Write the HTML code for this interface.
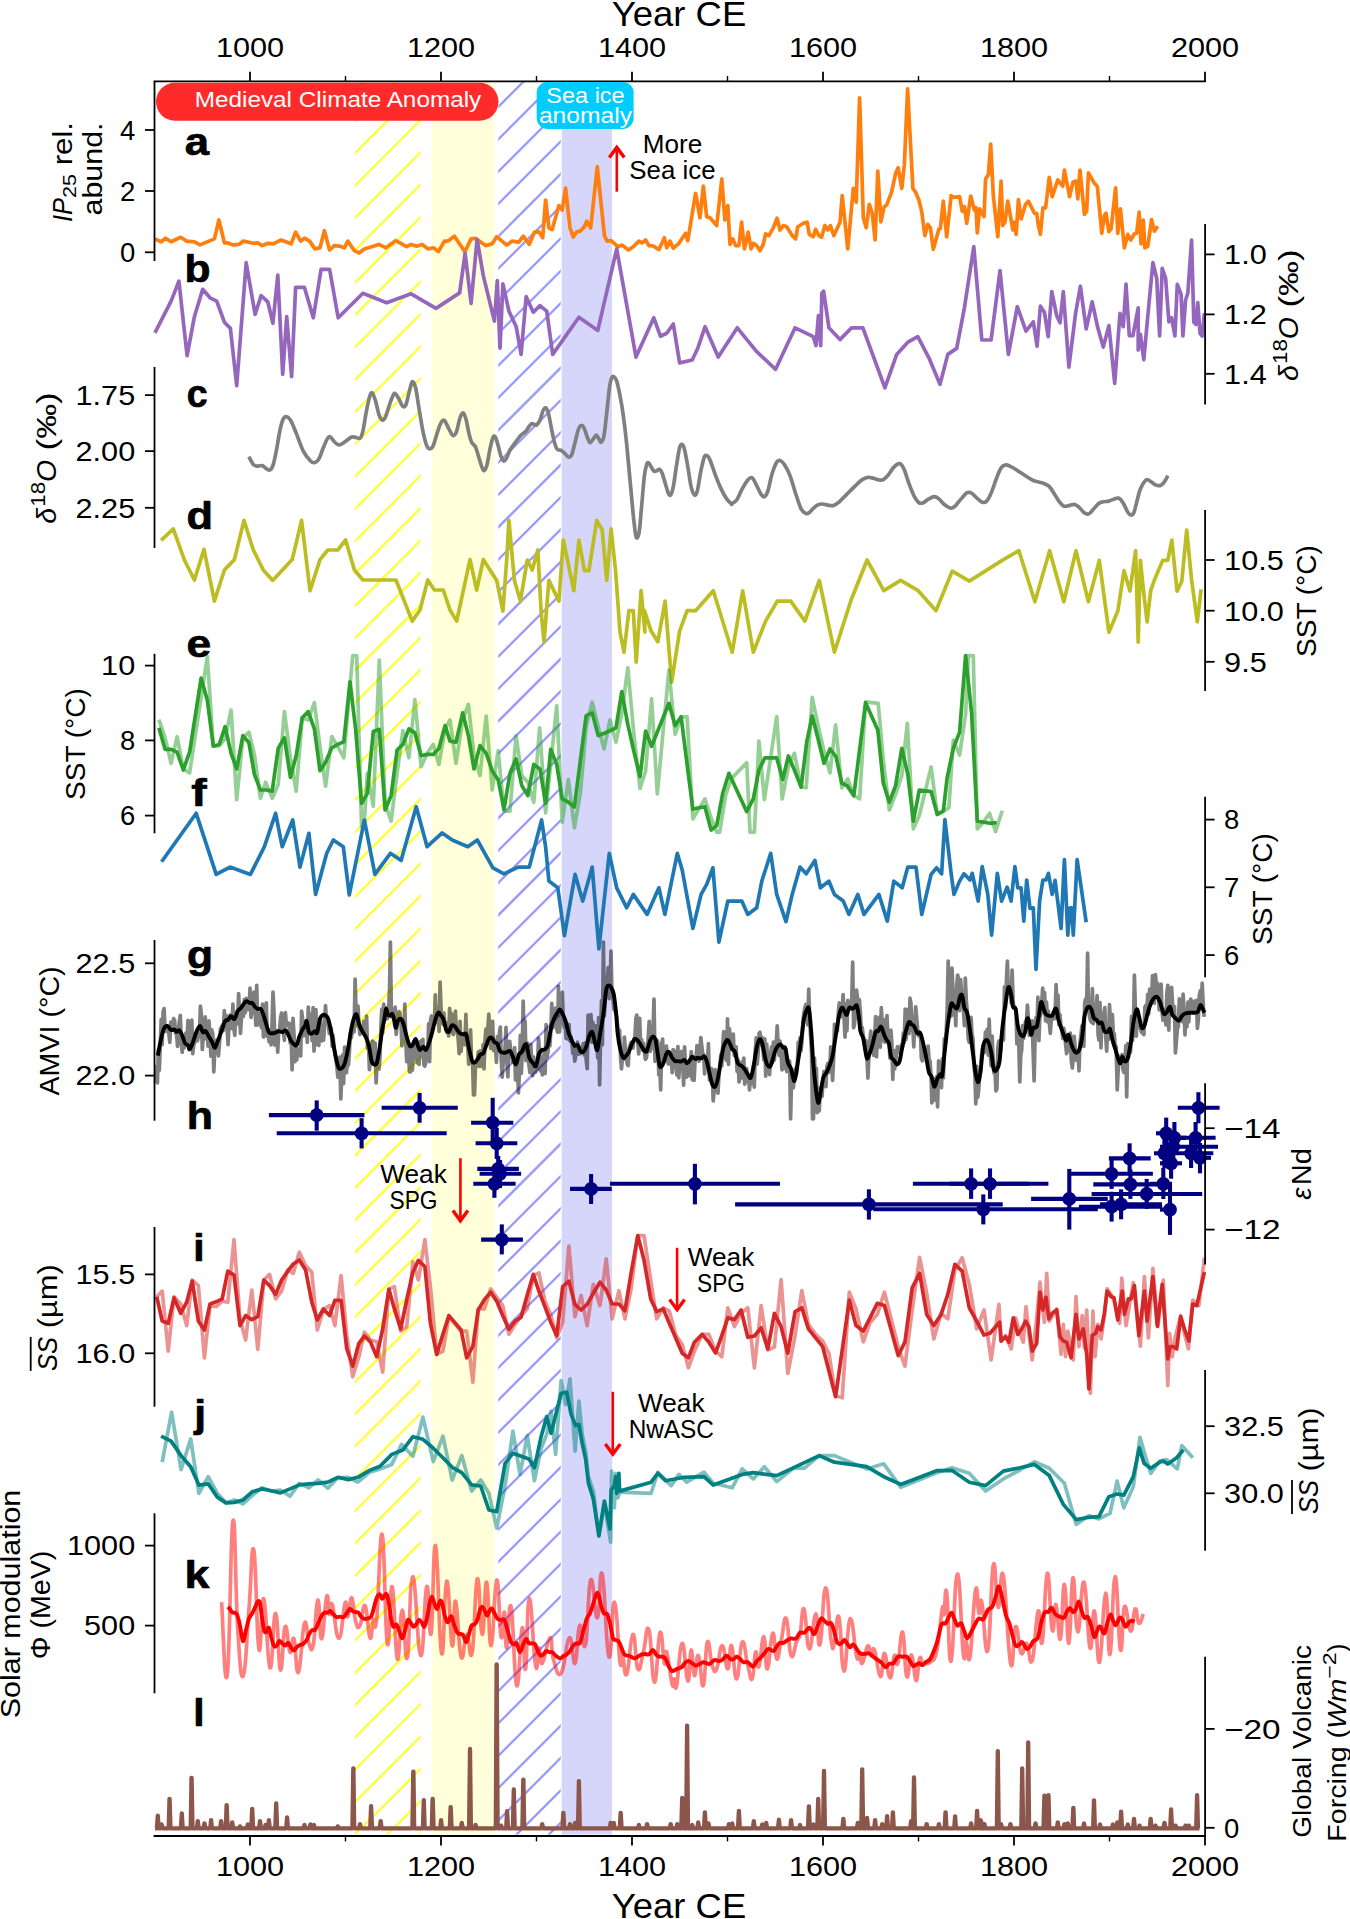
<!DOCTYPE html>
<html><head><meta charset="utf-8"><title>Figure</title>
<style>html,body{margin:0;padding:0;background:#fff}svg{display:block}</style></head>
<body>
<svg width="1350" height="1919" viewBox="0 0 1350 1919" font-family="Liberation Sans, sans-serif">
<rect width="1350" height="1919" fill="#fff"/>
<rect x="431.7" y="82.0" width="62.3" height="1752.5" fill="#ffffd9"/>
<rect x="561.7" y="82.0" width="50.3" height="1752.5" fill="#d6d6fb"/>
<clipPath id="hy"><rect x="355.0" y="82.0" width="65.69999999999999" height="1752.5"/></clipPath>
<path d="M352.0,91.6L423.7,19.9M352.0,123.9L423.7,52.2M352.0,156.2L423.7,84.5M352.0,188.6L423.7,116.9M352.0,220.9L423.7,149.2M352.0,253.2L423.7,181.5M352.0,285.6L423.7,213.9M352.0,317.9L423.7,246.2M352.0,350.2L423.7,278.5M352.0,382.6L423.7,310.9M352.0,414.9L423.7,343.2M352.0,447.2L423.7,375.5M352.0,479.6L423.7,407.9M352.0,511.9L423.7,440.2M352.0,544.2L423.7,472.5M352.0,576.5L423.7,504.8M352.0,608.9L423.7,537.2M352.0,641.2L423.7,569.5M352.0,673.5L423.7,601.8M352.0,705.9L423.7,634.2M352.0,738.2L423.7,666.5M352.0,770.5L423.7,698.8M352.0,802.9L423.7,731.2M352.0,835.2L423.7,763.5M352.0,867.5L423.7,795.8M352.0,899.8L423.7,828.1M352.0,932.2L423.7,860.5M352.0,964.5L423.7,892.8M352.0,996.8L423.7,925.1M352.0,1029.2L423.7,957.5M352.0,1061.5L423.7,989.8M352.0,1093.8L423.7,1022.1M352.0,1126.1L423.7,1054.4M352.0,1158.5L423.7,1086.8M352.0,1190.8L423.7,1119.1M352.0,1223.1L423.7,1151.4M352.0,1255.5L423.7,1183.8M352.0,1287.8L423.7,1216.1M352.0,1320.1L423.7,1248.4M352.0,1352.5L423.7,1280.8M352.0,1384.8L423.7,1313.1M352.0,1417.1L423.7,1345.4M352.0,1449.4L423.7,1377.7M352.0,1481.8L423.7,1410.1M352.0,1514.1L423.7,1442.4M352.0,1546.4L423.7,1474.7M352.0,1578.8L423.7,1507.1M352.0,1611.1L423.7,1539.4M352.0,1643.4L423.7,1571.7M352.0,1675.8L423.7,1604.1M352.0,1708.1L423.7,1636.4M352.0,1740.4L423.7,1668.7M352.0,1772.7L423.7,1701.0M352.0,1805.1L423.7,1733.4M352.0,1837.4L423.7,1765.7M352.0,1869.7L423.7,1798.0M352.0,1902.1L423.7,1830.4" stroke="#ffff38" stroke-width="2.3" stroke-opacity="1" fill="none" clip-path="url(#hy)"/>
<clipPath id="hb"><rect x="498.3" y="82.0" width="62.400000000000034" height="1752.5"/></clipPath>
<path d="M495.3,77.6L563.7,9.2M495.3,109.9L563.7,41.5M495.3,142.3L563.7,73.9M495.3,174.6L563.7,106.2M495.3,206.9L563.7,138.5M495.3,239.3L563.7,170.9M495.3,271.6L563.7,203.2M495.3,303.9L563.7,235.5M495.3,336.3L563.7,267.9M495.3,368.6L563.7,300.2M495.3,400.9L563.7,332.5M495.3,433.2L563.7,364.8M495.3,465.6L563.7,397.2M495.3,497.9L563.7,429.5M495.3,530.2L563.7,461.8M495.3,562.6L563.7,494.2M495.3,594.9L563.7,526.5M495.3,627.2L563.7,558.8M495.3,659.6L563.7,591.2M495.3,691.9L563.7,623.5M495.3,724.2L563.7,655.8M495.3,756.5L563.7,688.1M495.3,788.9L563.7,720.5M495.3,821.2L563.7,752.8M495.3,853.5L563.7,785.1M495.3,885.9L563.7,817.5M495.3,918.2L563.7,849.8M495.3,950.5L563.7,882.1M495.3,982.8L563.7,914.4M495.3,1015.2L563.7,946.8M495.3,1047.5L563.7,979.1M495.3,1079.8L563.7,1011.4M495.3,1112.2L563.7,1043.8M495.3,1144.5L563.7,1076.1M495.3,1176.8L563.7,1108.4M495.3,1209.2L563.7,1140.8M495.3,1241.5L563.7,1173.1M495.3,1273.8L563.7,1205.4M495.3,1306.1L563.7,1237.7M495.3,1338.5L563.7,1270.1M495.3,1370.8L563.7,1302.4M495.3,1403.1L563.7,1334.7M495.3,1435.5L563.7,1367.1M495.3,1467.8L563.7,1399.4M495.3,1500.1L563.7,1431.7M495.3,1532.5L563.7,1464.1M495.3,1564.8L563.7,1496.4M495.3,1597.1L563.7,1528.7M495.3,1629.4L563.7,1561.0M495.3,1661.8L563.7,1593.4M495.3,1694.1L563.7,1625.7M495.3,1726.4L563.7,1658.0M495.3,1758.8L563.7,1690.4M495.3,1791.1L563.7,1722.7M495.3,1823.4L563.7,1755.0M495.3,1855.8L563.7,1787.4M495.3,1888.1L563.7,1819.7" stroke="#0000ff" stroke-width="2.3" stroke-opacity="0.4" fill="none" clip-path="url(#hb)"/>
<polyline points="154.9,238.9 161.1,241.8 165.6,238.2 171.1,241.8 180.7,237.3 186.7,241.1 194.4,241.8 200.0,244.9 214.4,238.9 218.9,220.0 224.4,242.9 227.8,242.9 233.3,244.9 238.9,244.4 243.3,241.1 253.3,243.3 257.8,242.9 262.2,245.6 267.8,243.3 273.3,243.8 281.1,240.0 291.1,243.8 295.6,232.2 300.7,241.1 304.4,238.2 309.6,241.1 314.9,248.9 320.0,247.8 324.4,230.7 329.6,250.0 334.4,245.6 340.0,246.2 344.4,247.8 347.8,241.1 354.4,250.7 358.9,252.9 364.4,248.9 378.9,244.4 386.0,247.8 395.6,240.7 406.7,246.7 411.1,244.4 416.7,246.2 422.2,244.4 428.2,248.9 433.3,247.8 438.4,251.6 444.4,241.1 444.4,241.6 448.4,240.7 454.4,236.2 464.9,251.8 471.1,238.9 475.6,238.4 485.6,245.6 492.2,243.8 496.7,236.7 506.7,245.1 512.2,241.1 518.9,242.2 523.3,236.2 529.3,244.4 534.4,232.2 538.9,231.8 542.7,237.8 545.6,200.0 548.9,227.8 552.2,229.6 558.9,205.6 562.2,210.0 565.6,188.2 570.0,227.8 573.3,237.1 576.7,231.8 580.4,231.1 584.4,226.7 586.7,221.1 590.7,227.8 597.3,166.7 604.4,235.6 607.1,241.1 611.1,240.7 617.8,246.7 622.2,245.1 628.4,250.0 633.3,246.7 638.9,241.1 642.2,242.9 645.6,240.0 648.9,245.6 653.3,246.0 658.9,249.6 664.4,237.8 666.7,247.8 670.0,241.1 673.3,248.2 678.9,243.3 685.6,233.3 687.8,240.7 695.6,193.3 700.0,217.8 703.3,186.0 706.7,216.7 710.0,217.8 716.7,225.6 721.8,178.9 724.9,220.0 727.8,205.6 730.0,244.4 732.9,238.9 735.6,245.6 738.9,245.6 741.6,222.2 744.4,248.9 748.2,232.2 751.1,248.9 753.3,243.3 756.7,245.6 760.0,250.7 763.3,244.4 765.6,233.8 768.9,235.6 773.3,227.8 777.1,218.2 780.0,230.0 783.3,225.6 786.7,226.7 792.2,235.6 795.6,238.9 797.8,226.7 803.3,223.3 807.1,222.2 809.3,234.4 813.3,236.7 815.6,229.3 818.9,235.6 821.6,237.3 824.9,225.6 827.8,230.0 830.4,225.6 833.8,235.6 840.0,222.2 842.2,195.6 847.8,248.9 853.3,188.4 856.2,202.2 859.6,97.8 863.3,217.8 866.2,227.8 869.3,204.4 872.2,213.3 875.1,240.0 877.8,171.1 880.9,221.8 884.0,207.1 886.7,204.9 891.6,192.2 895.6,173.3 898.2,167.8 901.8,188.4 904.4,164.4 907.6,88.9 912.9,188.4 915.6,192.2 918.9,200.0 921.6,211.1 924.9,235.6 927.8,224.4 930.4,227.8 933.3,249.3 938.9,228.9 940.4,228.4 943.3,201.1 946.7,236.7 951.1,195.6 953.3,197.3 959.6,196.7 962.2,211.1 964.4,206.7 966.7,223.3 970.7,196.0 974.4,210.0 976.0,207.8 977.3,232.9 979.6,208.9 984.0,216.7 985.6,178.9 988.4,174.4 990.7,144.0 993.3,195.6 997.8,236.7 1001.1,181.1 1002.7,225.6 1004.9,222.2 1007.8,201.1 1012.9,230.0 1014.4,222.2 1016.2,234.4 1018.4,199.6 1021.1,218.9 1025.6,204.4 1028.4,201.1 1034.4,213.3 1036.7,213.3 1038.2,224.4 1040.4,234.4 1042.9,207.8 1045.6,207.8 1049.3,177.3 1052.2,196.7 1057.8,180.0 1062.7,186.2 1064.4,170.0 1069.6,196.7 1072.9,182.2 1076.0,181.1 1077.8,198.9 1080.0,170.0 1084.4,214.4 1086.7,211.1 1088.4,172.9 1094.4,183.3 1097.3,186.2 1101.8,233.3 1104.4,215.6 1106.0,213.3 1108.9,231.6 1111.1,228.9 1115.6,187.8 1117.8,233.3 1120.4,208.9 1124.4,247.8 1127.8,234.4 1130.7,240.0 1134.4,233.8 1136.7,233.3 1139.1,212.2 1141.1,244.0 1143.3,220.0 1144.9,247.8 1147.8,246.2 1151.6,219.6 1154.4,231.1 1157.8,226.2" fill="none" stroke="#ff7f0e" stroke-width="3.7" stroke-linejoin="round" stroke-linecap="butt" />
<polyline points="154.9,332.9 171.1,301.1 178.9,281.1 187.1,355.6 194.4,316.7 202.7,289.3 210.0,297.8 216.7,301.1 224.4,322.2 230.4,328.4 236.7,385.6 246.2,262.7 255.1,314.4 261.1,295.6 267.8,301.8 272.9,323.3 277.8,275.1 282.7,374.4 286.7,316.7 291.6,376.7 295.6,287.3 304.4,287.3 313.3,317.8 321.1,269.3 329.6,269.3 338.2,317.8 362.9,293.3 386.7,302.7 411.1,293.8 436.0,308.4 459.6,292.9 465.1,253.3 471.1,303.3 477.1,239.3 483.3,275.6 494.4,321.1 497.3,280.7 500.0,348.2 502.9,283.8 508.9,311.1 516.2,326.7 521.1,354.4 526.2,296.7 533.3,312.2 540.0,305.6 546.7,311.1 552.7,354.4 578.9,317.3 597.8,330.4 616.7,248.9 636.0,357.1 653.8,317.8 660.4,336.2 666.7,333.3 673.3,324.0 679.6,362.9 692.2,360.0 697.8,348.2 705.1,326.7 718.2,357.1 737.3,327.8 756.7,351.6 775.6,369.3 795.1,327.8 813.3,336.7 816.0,345.6 818.4,315.6 820.7,345.6 821.8,293.3 823.6,291.1 828.9,327.8 840.0,339.6 851.6,327.8 862.9,327.8 884.9,387.8 896.7,354.4 907.8,342.2 917.8,336.7 928.9,357.8 940.0,384.4 947.8,354.4 956.7,348.4 964.4,307.8 973.8,246.7 981.8,340.0 991.1,340.0 1000.0,270.7 1008.4,354.4 1017.3,306.7 1026.0,331.1 1033.3,321.8 1037.1,346.2 1040.4,306.2 1044.4,312.2 1048.2,336.7 1051.8,291.6 1056.7,315.6 1060.0,322.7 1063.3,291.6 1068.9,367.1 1075.6,313.3 1080.4,286.2 1086.2,328.9 1092.2,301.8 1097.8,327.8 1103.3,347.1 1108.9,325.6 1114.7,383.3 1120.0,313.3 1123.3,326.7 1126.0,284.0 1129.3,335.6 1132.9,335.6 1138.2,307.8 1138.2,350.0 1140.4,334.4 1143.8,359.6 1148.9,304.4 1152.9,262.7 1156.7,278.2 1159.6,336.0 1162.2,268.4 1165.6,278.2 1168.9,321.8 1171.6,317.8 1174.9,336.0 1177.3,284.4 1181.1,294.4 1182.9,336.0 1185.6,300.0 1187.8,293.3 1191.6,240.0 1193.8,322.2 1196.0,324.4 1197.8,302.7 1200.0,333.3 1202.2,336.0 1204.4,313.3" fill="none" stroke="#9467bd" stroke-width="3.7" stroke-linejoin="round" stroke-linecap="butt" />
<path d="M248.9,456.7C249.6,458.0 251.9,462.9 253.3,464.4C254.8,466.0 256.3,466.0 257.8,466.2C259.3,466.4 260.7,465.1 262.2,465.6C263.7,466.0 265.4,468.1 266.7,468.9C268.0,469.6 268.9,470.7 270.0,470.0C271.1,469.3 272.2,468.0 273.3,464.4C274.4,460.9 275.6,454.6 276.7,448.9C277.8,443.1 278.9,435.0 280.0,430.0C281.1,425.0 282.2,421.1 283.3,418.9C284.4,416.7 285.4,416.3 286.7,416.7C288.0,417.0 289.4,418.1 291.1,421.1C292.8,424.1 294.6,429.4 296.7,434.4C298.7,439.4 301.1,446.8 303.3,451.1C305.6,455.4 308.1,458.5 310.0,460.4C311.9,462.4 313.0,462.9 314.4,462.7C315.9,462.4 317.4,461.4 318.9,458.9C320.4,456.4 321.9,451.1 323.3,447.8C324.7,444.4 326.2,440.7 327.3,438.9C328.4,437.0 328.8,436.2 330.0,436.7C331.2,437.1 333.0,440.4 334.4,441.8C335.9,443.1 337.2,444.8 338.9,444.9C340.6,445.0 342.4,443.5 344.4,442.2C346.5,441.0 349.3,438.1 351.1,437.3C353.0,436.5 354.1,437.2 355.6,437.3C357.0,437.5 358.8,439.3 360.0,438.2C361.2,437.2 361.9,435.3 362.9,431.1C363.9,427.0 364.9,419.1 366.0,413.3C367.1,407.6 368.5,400.1 369.6,396.7C370.6,393.3 371.2,392.1 372.2,392.9C373.2,393.6 374.4,397.5 375.6,401.1C376.7,404.7 377.8,411.3 378.9,414.4C380.0,417.6 381.1,419.6 382.2,420.0C383.3,420.4 384.3,419.4 385.6,416.7C386.9,413.9 388.5,407.2 390.0,403.3C391.5,399.4 393.0,394.1 394.4,393.3C395.9,392.6 397.6,396.9 398.9,398.9C400.2,400.9 401.1,404.4 402.2,405.6C403.3,406.7 404.4,407.6 405.6,405.6C406.7,403.5 407.8,397.3 408.9,393.3C410.0,389.4 411.1,382.7 412.2,381.8C413.3,380.9 414.4,383.4 415.6,387.8C416.7,392.1 417.7,400.6 418.9,407.8C420.1,415.0 421.6,424.8 422.9,431.1C424.2,437.4 425.5,442.6 426.7,445.6C427.9,448.5 428.9,448.9 430.0,448.9C431.1,448.9 432.0,448.5 433.3,445.6C434.6,442.6 436.4,435.1 437.8,431.1C439.1,427.1 440.4,423.6 441.6,421.8C442.7,420.0 443.6,420.0 444.4,420.4C445.3,420.9 445.7,422.7 446.7,424.4C447.6,426.2 448.9,429.3 450.0,431.1C451.1,433.0 452.2,435.6 453.3,435.6C454.4,435.6 455.6,434.1 456.7,431.1C457.8,428.1 458.9,420.8 460.0,417.8C461.1,414.7 462.3,412.5 463.3,412.9C464.4,413.3 465.3,416.6 466.2,420.0C467.1,423.4 468.0,429.6 468.9,433.3C469.8,437.0 470.4,439.9 471.6,442.2C472.7,444.5 474.3,444.5 475.6,447.1C476.8,449.7 477.8,454.3 478.9,457.8C480.0,461.2 481.3,465.7 482.2,467.8C483.1,469.9 483.6,471.0 484.4,470.4C485.3,469.9 486.2,468.0 487.1,464.4C488.0,460.9 489.0,453.3 490.0,448.9C491.0,444.4 492.0,439.8 492.9,437.8C493.7,435.7 494.3,435.6 495.1,436.7C495.9,437.8 496.8,441.1 497.8,444.4C498.8,447.8 500.1,453.9 501.1,456.7C502.1,459.4 503.1,460.9 504.0,461.1C504.9,461.3 505.7,459.6 506.7,457.8C507.7,455.9 508.5,452.6 510.0,450.0C511.5,447.4 513.7,444.7 515.6,442.2C517.4,439.7 519.4,436.9 521.1,435.1C522.8,433.3 524.3,433.0 525.6,431.6C526.9,430.1 527.9,428.0 528.9,426.7C529.9,425.4 530.6,424.1 531.6,423.8C532.5,423.4 533.6,424.3 534.4,424.4C535.3,424.6 535.7,425.6 536.7,424.9C537.6,424.1 539.0,422.3 540.0,420.0C541.0,417.7 542.0,413.1 542.9,411.1C543.8,409.1 544.6,407.4 545.6,407.8C546.5,408.1 547.5,410.2 548.4,413.3C549.4,416.5 550.1,421.9 551.1,426.7C552.1,431.5 553.4,438.4 554.4,442.2C555.5,446.0 556.1,447.9 557.3,449.3C558.6,450.7 560.4,449.8 561.8,450.7C563.1,451.5 564.4,453.4 565.6,454.4C566.7,455.5 567.9,457.1 568.9,457.1C569.9,457.1 570.7,456.9 571.8,454.4C572.8,452.0 574.0,446.3 575.1,442.2C576.2,438.1 577.2,432.8 578.2,430.0C579.2,427.2 580.1,425.9 581.1,425.6C582.1,425.2 583.0,425.9 584.0,427.8C585.0,429.6 586.1,434.2 587.1,436.7C588.1,439.1 589.0,442.3 590.0,442.7C591.0,443.0 592.3,440.1 593.3,438.9C594.4,437.6 595.3,435.1 596.2,435.1C597.1,435.1 598.1,437.7 598.9,438.9C599.7,440.1 600.3,442.8 601.1,442.2C602.0,441.7 603.1,440.4 604.0,435.6C604.9,430.7 605.8,421.1 606.7,413.3C607.6,405.6 608.5,394.7 609.3,388.9C610.1,383.0 610.8,380.3 611.6,378.2C612.3,376.2 612.9,376.2 613.8,376.7C614.6,377.1 615.6,378.0 616.7,381.1C617.7,384.3 618.9,389.8 620.0,395.6C621.1,401.3 622.2,407.4 623.3,415.6C624.4,423.7 625.6,433.7 626.7,444.4C627.8,455.2 628.9,468.1 630.0,480.0C631.1,491.9 632.4,506.5 633.3,515.6C634.3,524.6 634.9,530.7 635.6,534.4C636.2,538.1 636.7,538.3 637.3,537.8C638.0,537.2 638.6,536.7 639.3,531.1C640.1,525.6 640.9,513.7 641.8,504.4C642.6,495.2 643.6,482.2 644.4,475.6C645.3,468.9 646.0,466.6 646.7,464.4C647.3,462.3 647.7,462.3 648.4,462.7C649.2,463.0 650.2,465.3 651.1,466.7C652.0,468.1 652.9,470.4 653.8,471.1C654.7,471.8 655.7,471.0 656.7,470.7C657.6,470.4 658.6,468.9 659.6,469.3C660.5,469.8 661.2,470.8 662.2,473.3C663.2,475.9 664.5,481.1 665.6,484.4C666.6,487.8 667.6,491.6 668.4,493.3C669.3,495.1 669.9,496.0 670.7,494.9C671.5,493.8 672.3,491.7 673.3,486.7C674.3,481.6 675.6,470.9 676.7,464.4C677.7,458.0 678.7,451.1 679.6,447.8C680.4,444.4 681.0,444.3 681.8,444.4C682.6,444.6 683.4,445.2 684.4,448.9C685.4,452.6 686.7,460.4 687.8,466.7C688.9,473.0 690.0,482.0 691.1,486.7C692.2,491.4 693.4,494.1 694.4,494.9C695.5,495.6 696.3,494.7 697.3,491.1C698.3,487.5 699.3,478.9 700.4,473.3C701.6,467.8 703.0,460.7 704.0,457.8C705.0,454.8 705.7,455.2 706.7,455.6C707.7,455.9 708.5,456.7 710.0,460.0C711.5,463.3 713.7,470.7 715.6,475.6C717.4,480.4 719.3,485.0 721.1,488.9C723.0,492.8 724.9,496.4 726.7,498.9C728.4,501.4 730.7,503.2 731.6,504.0C732.4,504.8 730.7,504.4 731.6,503.8C732.4,503.1 734.9,502.5 736.7,500.0C738.4,497.5 740.4,492.2 742.2,488.9C744.1,485.6 746.1,481.9 747.8,480.0C749.4,478.1 750.7,476.9 752.2,477.8C753.7,478.7 755.2,482.8 756.7,485.6C758.1,488.3 759.8,492.6 761.1,494.4C762.4,496.3 763.3,497.2 764.4,496.7C765.6,496.1 766.5,495.0 767.8,491.1C769.1,487.2 770.7,478.1 772.2,473.3C773.7,468.5 775.4,464.4 776.7,462.2C778.0,460.1 778.7,460.1 780.0,460.4C781.3,460.8 782.8,461.9 784.4,464.4C786.1,467.0 788.1,470.7 790.0,475.6C791.9,480.4 793.7,487.8 795.6,493.3C797.4,498.9 799.4,505.6 801.1,508.9C802.8,512.2 804.3,512.7 805.6,513.3C806.9,514.0 807.6,513.7 808.9,512.9C810.2,512.1 811.9,509.8 813.3,508.4C814.8,507.1 816.3,505.6 817.8,504.9C819.3,504.1 820.6,504.0 822.2,504.0C823.9,504.0 825.9,504.9 827.8,505.1C829.6,505.4 831.5,506.0 833.3,505.6C835.2,505.1 836.7,504.1 838.9,502.2C841.1,500.4 843.9,497.2 846.7,494.4C849.4,491.7 853.0,488.0 855.6,485.6C858.1,483.1 860.2,480.9 862.2,479.6C864.3,478.2 865.9,477.6 867.8,477.3C869.6,477.1 871.5,477.8 873.3,478.2C875.2,478.7 877.2,479.8 878.9,480.0C880.6,480.2 881.9,480.3 883.3,479.6C884.8,478.8 886.1,477.5 887.8,475.6C889.4,473.6 891.7,469.7 893.3,467.8C895.0,465.9 896.5,464.6 897.8,464.0C899.1,463.4 900.0,463.4 901.1,464.4C902.2,465.4 903.1,466.9 904.4,470.0C905.7,473.1 907.2,478.9 908.9,483.3C910.6,487.8 912.8,493.4 914.4,496.7C916.1,499.9 917.4,501.7 918.9,502.7C920.4,503.7 921.7,503.3 923.3,502.7C925.0,502.0 927.0,499.9 928.9,498.9C930.7,497.9 932.8,496.7 934.4,496.7C936.1,496.7 937.2,497.6 938.9,498.9C940.6,500.2 942.4,502.9 944.4,504.4C946.5,506.0 949.3,508.0 951.1,508.2C953.0,508.4 953.9,507.1 955.6,505.6C957.2,504.0 959.3,501.0 961.1,498.9C963.0,496.8 965.0,493.9 966.7,492.9C968.3,491.9 969.4,492.1 971.1,492.9C972.8,493.7 974.8,496.2 976.7,497.8C978.5,499.3 980.6,501.7 982.2,502.2C983.9,502.8 985.2,502.6 986.7,501.1C988.1,499.6 989.4,497.2 991.1,493.3C992.8,489.4 995.0,482.0 996.7,477.8C998.3,473.5 999.6,469.9 1001.1,467.8C1002.6,465.6 1004.1,465.1 1005.6,464.9C1007.0,464.6 1007.6,465.0 1010.0,466.2C1012.4,467.4 1016.5,470.0 1020.0,472.2C1023.5,474.4 1028.3,477.8 1031.1,479.3C1033.9,480.9 1034.6,480.9 1036.7,481.6C1038.7,482.2 1041.3,482.6 1043.3,483.3C1045.4,484.1 1047.2,484.7 1048.9,486.2C1050.6,487.7 1051.7,489.7 1053.3,492.2C1055.0,494.7 1057.1,498.8 1058.9,501.1C1060.7,503.4 1062.3,505.5 1064.0,506.2C1065.7,507.0 1067.1,505.9 1068.9,505.6C1070.6,505.3 1072.8,504.2 1074.4,504.4C1076.1,504.7 1077.2,505.7 1078.9,507.1C1080.6,508.5 1082.8,511.8 1084.4,512.9C1086.1,514.0 1087.4,514.4 1088.9,513.8C1090.4,513.2 1091.7,511.1 1093.3,509.3C1095.0,507.6 1097.2,504.6 1098.9,503.3C1100.6,502.1 1101.7,502.1 1103.3,501.8C1105.0,501.4 1107.0,501.6 1108.9,501.1C1110.7,500.6 1112.8,499.4 1114.4,498.9C1116.1,498.4 1117.4,497.5 1118.9,498.2C1120.4,499.0 1121.9,501.0 1123.3,503.3C1124.8,505.7 1126.5,510.3 1127.8,512.2C1129.1,514.2 1130.1,515.1 1131.1,515.1C1132.1,515.1 1133.1,514.4 1134.0,512.2C1134.9,510.1 1135.7,505.9 1136.7,502.2C1137.7,498.5 1138.8,493.3 1140.0,490.0C1141.2,486.7 1142.8,484.0 1144.0,482.2C1145.2,480.5 1145.9,479.6 1147.1,479.6C1148.3,479.5 1149.7,480.9 1151.1,481.8C1152.5,482.7 1154.1,484.3 1155.6,484.9C1157.0,485.5 1158.7,485.8 1160.0,485.6C1161.3,485.3 1162.3,484.4 1163.3,483.3C1164.4,482.2 1165.5,480.2 1166.2,478.9C1167.0,477.6 1167.5,476.1 1167.8,475.6" fill="none" stroke="#7f7f7f" stroke-width="3.7" stroke-linejoin="round" stroke-linecap="butt"/>
<polyline points="161.1,540.4 173.3,528.9 184.4,560.0 194.4,580.0 204.0,549.3 214.4,601.1 224.4,570.0 234.4,559.6 244.0,520.4 253.3,550.0 263.3,570.0 272.7,580.4 292.2,559.6 301.6,520.4 310.0,590.7 320.0,559.6 327.8,550.0 337.8,550.0 345.6,540.0 354.4,570.0 362.9,580.0 396.0,580.0 412.2,621.1 420.0,610.0 427.8,580.0 434.4,590.0 443.3,590.0 450.0,610.0 456.7,621.1 470.0,559.6 476.7,590.0 483.3,559.6 496.7,580.4 502.9,611.1 506.7,560.0 508.9,520.4 514.4,580.4 520.4,601.1 527.3,560.0 532.2,570.0 537.8,550.0 541.1,611.1 544.0,641.8 548.9,580.4 558.9,601.1 563.3,540.0 573.8,590.7 578.9,540.0 584.4,570.7 588.9,570.7 596.7,520.4 602.2,530.0 606.7,580.4 611.1,528.9 615.6,571.1 620.0,632.2 624.0,652.2 628.9,610.7 633.3,610.7 636.2,662.2 641.1,590.7 644.9,632.2 644.4,610.7 651.1,631.1 657.8,641.8 665.1,601.1 671.6,682.2 679.6,631.1 687.1,610.7 695.6,610.7 713.3,590.7 732.2,652.2 742.7,590.7 753.3,652.2 765.6,621.1 777.3,601.1 790.7,601.1 804.9,621.1 819.3,580.4 834.4,652.2 851.1,600.0 867.1,560.0 883.8,590.7 900.7,580.4 918.2,590.7 936.0,610.7 952.2,571.1 969.3,581.1 1002.2,560.4 1018.9,550.7 1034.9,601.8 1049.6,550.7 1063.8,601.8 1076.0,550.7 1088.4,601.8 1099.3,560.4 1108.9,632.2 1117.8,611.1 1124.0,570.7 1130.0,591.1 1135.6,550.7 1138.2,642.2 1140.4,560.4 1143.3,588.9 1147.1,621.8 1150.7,590.7 1154.4,580.0 1162.7,560.4 1167.8,560.4 1171.8,540.0 1177.1,591.1 1181.8,581.1 1186.7,530.0 1191.6,580.0 1197.3,621.8 1201.1,589.3" fill="none" stroke="#bcbd22" stroke-width="3.7" stroke-linejoin="round" stroke-linecap="butt" />
<polyline points="158.9,719.6 165.1,737.8 171.1,763.3 177.1,736.7 183.3,768.9 189.6,772.9 207.3,656.7 213.3,746.2 219.3,745.6 225.1,738.9 231.1,710.0 236.7,799.6 242.9,737.8 248.9,732.2 254.4,754.4 260.4,798.2 265.6,782.2 272.2,798.2 278.2,784.4 284.4,711.6 290.4,757.8 296.2,791.1 302.2,717.8 308.2,720.0 314.4,702.7 320.0,746.7 325.6,786.2 331.8,736.7 337.8,746.7 343.8,757.8 352.7,655.6 356.7,655.6 361.6,826.7 364.4,820.0 367.3,773.3 373.3,806.2 379.3,660.0 385.1,803.3 391.1,821.1 397.1,773.3 402.9,730.7 408.9,757.8 414.9,699.6 421.1,766.7 427.8,752.2 433.3,744.4 438.9,764.4 445.1,728.9 450.0,720.0 456.0,763.3 462.7,720.0 468.4,704.4 474.0,755.6 480.0,775.6 486.2,716.0 492.2,790.0 498.2,750.7 504.0,811.1 510.0,811.1 516.0,735.6 521.8,775.6 527.8,782.2 533.8,802.2 539.6,727.8 545.6,812.9 550.7,764.4 556.7,705.6 562.2,822.2 568.4,779.6 574.4,827.8 580.4,793.3 586.2,726.7 592.2,702.2 598.2,726.7 604.0,748.9 610.0,720.0 616.0,742.2 621.8,713.3 627.8,667.8 633.8,733.3 640.0,788.4 645.6,771.1 651.6,698.9 657.3,793.8 668.9,670.0 675.1,734.4 681.1,717.3 687.1,716.7 692.9,818.9 698.9,808.9 704.9,798.9 711.1,817.8 716.7,832.2 719.6,832.2 725.6,795.6 731.1,778.9 746.7,762.7 750.0,832.2 754.4,832.2 758.9,741.1 764.4,799.6 776.7,716.7 782.2,798.9 788.4,766.7 794.4,753.3 801.1,786.7 806.2,787.8 812.2,697.3 817.8,724.4 824.0,751.1 830.0,772.9 835.6,724.9 841.8,787.8 847.8,778.9 853.8,795.6 859.6,798.9 865.6,701.8 878.2,703.3 883.3,760.0 889.3,810.0 895.6,794.4 901.8,775.6 907.3,723.3 913.3,828.9 919.3,815.6 931.1,767.1 937.3,814.4 943.3,811.1 948.9,807.8 953.3,740.0 959.6,755.1 965.6,714.4 968.4,655.6 973.3,655.6 977.3,828.9 983.3,822.2 989.6,813.3 995.6,831.6 1002.2,810.7" fill="none" stroke="#2ca02c" stroke-width="3.7" stroke-linejoin="round" stroke-linecap="butt" stroke-opacity="0.5" />
<polyline points="158.9,727.8 165.1,749.3 171.1,749.3 177.1,752.2 183.3,770.0 189.6,752.2 201.1,678.2 207.3,700.0 213.3,746.2 219.3,744.4 225.1,726.7 231.1,753.3 236.7,768.9 242.9,735.6 248.9,742.7 254.4,774.4 260.4,790.0 266.7,790.0 272.2,791.1 278.2,748.4 284.4,737.8 290.4,777.3 296.2,755.6 302.2,717.8 308.2,711.6 314.4,728.9 320.0,770.7 325.6,762.2 331.8,747.8 337.8,744.4 343.8,741.8 350.0,681.8 355.6,728.9 361.6,803.3 367.3,793.3 373.3,731.6 379.3,729.3 385.1,810.0 391.1,795.6 397.1,750.0 402.9,744.4 408.9,728.9 414.9,732.9 421.1,755.6 427.8,754.4 433.3,754.4 438.9,748.4 445.1,725.6 450.0,741.1 456.0,742.2 462.7,712.9 468.4,735.6 474.0,768.9 480.0,745.6 486.2,753.3 492.2,770.7 498.2,780.0 504.0,809.3 510.0,773.3 516.0,758.9 521.8,785.6 527.8,795.6 533.8,764.4 540.0,768.9 545.6,803.3 550.7,749.3 556.7,764.4 562.2,798.9 568.4,802.2 574.4,807.1 580.4,760.0 586.2,715.6 592.2,712.9 598.2,735.6 604.4,733.3 610.0,730.7 616.0,727.8 621.8,691.6 627.8,724.4 633.8,751.1 640.0,776.7 645.6,731.1 651.6,746.2 668.9,703.3 675.1,725.6 681.1,716.7 687.1,764.4 692.9,809.3 698.9,807.8 704.9,806.7 711.1,830.0 716.7,825.6 722.7,793.3 728.9,773.3 746.7,811.6 753.3,798.9 758.9,770.0 764.9,757.8 776.7,757.8 782.7,779.6 788.4,756.0 794.4,770.0 801.1,787.1 806.7,742.2 812.2,716.0 817.8,737.8 824.0,763.3 830.0,748.9 836.0,756.7 841.8,783.3 847.1,785.6 853.8,795.6 865.6,702.7 877.8,730.0 883.3,783.3 889.3,802.2 895.6,785.6 901.8,748.4 907.8,774.4 913.3,821.1 919.3,790.0 931.1,791.6 937.3,814.4 943.3,811.1 947.1,778.2 953.3,748.4 959.6,732.2 965.6,655.6 971.6,713.3 977.3,821.1 990.0,823.3 996.7,822.7" fill="none" stroke="#2ca02c" stroke-width="3.7" stroke-linejoin="round" stroke-linecap="butt" />
<polyline points="161.6,861.8 196.2,813.3 216.2,874.4 230.0,867.1 250.4,874.4 264.4,846.7 275.6,813.3 282.2,846.7 292.7,820.0 300.0,867.1 308.9,833.3 315.6,894.4 326.7,853.3 333.3,840.0 343.3,846.7 349.3,894.9 364.4,820.0 374.9,874.4 390.4,853.3 401.1,860.4 416.2,806.7 427.1,846.7 442.2,832.9 452.2,840.0 467.8,846.7 477.3,840.0 492.9,867.8 504.0,873.8 518.2,867.1 529.3,867.1 541.6,820.0 545.6,846.7 548.9,881.1 557.8,887.8 564.4,935.6 575.1,874.4 582.7,901.1 592.2,867.1 598.9,948.9 609.3,853.3 616.7,887.8 626.7,907.8 633.3,894.4 647.1,914.4 658.9,887.8 664.9,914.4 677.3,853.3 682.2,870.0 692.9,928.4 701.1,894.4 706.7,884.4 712.9,867.8 718.9,942.2 727.8,901.1 741.8,901.1 747.8,914.4 756.7,907.8 761.8,881.1 770.7,853.3 776.7,894.4 786.0,921.6 792.2,894.4 800.0,867.1 806.2,873.8 814.9,860.4 820.4,887.8 828.9,881.1 834.4,894.4 843.3,901.1 848.9,914.4 857.8,894.4 864.0,914.4 878.9,894.4 887.3,921.1 893.8,881.1 902.2,887.8 907.8,867.1 916.0,867.1 921.8,914.4 931.1,874.4 936.7,867.8 941.6,873.8 944.9,819.6 951.1,873.3 954.0,894.4 959.6,881.1 964.0,873.8 970.0,880.0 972.2,873.3 978.2,901.1 982.2,866.7 987.8,894.4 991.6,935.1 997.3,873.3 1001.6,901.1 1007.1,887.1 1011.1,901.1 1014.9,866.7 1017.8,887.8 1021.1,887.8 1023.8,921.1 1026.7,880.0 1030.0,908.4 1033.3,907.8 1036.0,969.3 1039.6,901.1 1042.9,880.0 1046.0,880.0 1048.4,873.3 1052.2,894.4 1055.1,880.4 1061.1,928.4 1064.4,859.6 1067.8,935.1 1070.0,907.8 1071.6,907.8 1073.3,935.1 1077.1,859.6 1086.2,922.2" fill="none" stroke="#1f77b4" stroke-width="3.7" stroke-linejoin="round" stroke-linecap="butt" />
<polyline points="155.5,1083.0 156.5,1066.7 157.4,1083.0 158.4,1050.2 159.3,1070.5 160.3,1045.9 161.2,1019.3 162.2,1044.7 163.1,1011.8 164.1,1008.6 165.1,1031.4 166.0,1026.6 167.0,1029.9 167.9,1031.1 168.9,1034.0 169.8,1042.4 170.8,1022.1 171.7,1028.7 172.7,1024.6 173.6,1018.7 174.6,1020.4 175.6,1033.5 176.5,1032.2 177.5,1046.4 178.4,1029.7 179.4,1021.1 180.3,1015.4 181.3,1043.4 182.2,1052.2 183.2,1042.3 184.2,1047.8 185.1,1036.3 186.1,1032.8 187.0,1038.5 188.0,1020.4 188.9,1049.8 189.9,1026.8 190.8,1021.9 191.8,1020.2 192.7,1053.7 193.7,1045.4 194.7,1042.1 195.6,1040.2 196.6,1037.7 197.5,1040.8 198.5,1034.4 199.4,1036.6 200.4,1006.0 201.3,1013.8 202.3,1049.5 203.3,1035.8 204.2,1039.1 205.2,1016.8 206.1,1027.3 207.1,1023.5 208.0,1046.1 209.0,1020.9 209.9,1035.5 210.9,1056.2 211.8,1029.8 212.8,1034.4 213.8,1072.0 214.7,1051.4 215.7,1047.6 216.6,1039.9 217.6,1044.8 218.5,1055.8 219.5,1043.1 220.4,1029.1 221.4,1027.1 222.4,1024.9 223.3,1030.6 224.3,1010.6 225.2,1023.9 226.2,1015.7 227.1,1027.8 228.1,1044.7 229.0,1022.7 230.0,1014.9 230.9,1015.7 231.9,1028.5 232.9,1004.2 233.8,1028.2 234.8,1035.3 235.7,1012.0 236.7,1020.9 237.6,1024.0 238.6,993.7 239.5,1011.4 240.5,1033.4 241.5,1016.4 242.4,1007.5 243.4,1016.5 244.3,999.7 245.3,1012.7 246.2,998.4 247.2,1004.0 248.1,1009.4 249.1,1009.7 250.0,988.0 251.0,1017.5 252.0,1011.5 252.9,1003.9 253.9,992.1 254.8,996.3 255.8,1025.3 256.7,985.4 257.7,1025.0 258.6,1013.5 259.6,1013.6 260.6,1022.0 261.5,1027.7 262.5,1004.1 263.4,1037.0 264.4,1034.3 265.3,1018.1 266.3,1002.9 267.2,1036.5 268.2,1030.0 269.1,1041.9 270.1,1032.0 271.1,1045.0 272.0,1025.6 273.0,992.0 273.9,1010.4 274.9,1045.1 275.8,1030.3 276.8,1031.8 277.7,1052.2 278.7,1031.7 279.7,1029.1 280.6,1017.2 281.6,1013.1 282.5,1025.2 283.5,1031.6 284.4,1040.3 285.4,1012.6 286.3,1024.3 287.3,1022.7 288.2,1025.6 289.2,1023.1 290.2,1043.1 291.1,1033.7 292.1,1070.0 293.0,1018.3 294.0,1034.4 294.9,1061.7 295.9,1053.5 296.8,1059.9 297.8,1049.1 298.8,1048.8 299.7,1050.9 300.7,1055.9 301.6,1011.2 302.6,1018.8 303.5,1035.9 304.5,1033.0 305.4,1035.0 306.4,1025.3 307.3,1042.5 308.3,1007.1 309.3,1028.2 310.2,1014.0 311.2,1023.3 312.1,1040.6 313.1,1007.6 314.0,1051.2 315.0,1036.1 315.9,1009.5 316.9,1044.4 317.9,1044.4 318.8,1045.4 319.8,1023.4 320.7,1020.0 321.7,1041.0 322.6,1027.2 323.6,1040.1 324.5,1026.7 325.5,1005.5 326.4,1019.7 327.4,1017.2 328.4,1025.5 329.3,1033.5 330.3,1031.9 331.2,1028.0 332.2,1046.3 333.1,1035.6 334.1,1048.2 335.0,1053.0 336.0,1059.8 336.9,1066.9 337.9,1077.2 338.9,1073.3 339.8,1057.1 340.8,1099.0 341.7,1076.5 342.7,1054.8 343.6,1083.7 344.6,1047.1 345.5,1065.7 346.5,1072.6 347.5,1059.5 348.4,1065.2 349.4,1051.6 350.3,1033.0 351.3,1037.7 352.2,1032.1 353.2,1031.7 354.1,1031.9 355.1,979.0 356.0,1007.7 357.0,1025.9 358.0,1006.2 358.9,1025.6 359.9,1034.6 360.8,1028.1 361.8,1032.4 362.7,1032.6 363.7,1021.4 364.6,1027.9 365.6,1031.8 366.6,1016.2 367.5,1048.4 368.5,1043.8 369.4,1069.7 370.4,1060.2 371.3,1057.7 372.3,1041.2 373.2,1041.6 374.2,1063.8 375.1,1043.0 376.1,1083.0 377.1,1061.7 378.0,1059.5 379.0,1069.1 379.9,1059.3 380.9,1027.1 381.8,1009.2 382.8,1032.8 383.7,1004.1 384.7,1015.0 385.7,1007.5 386.6,1018.9 387.6,1017.9 388.5,1012.8 389.5,990.3 390.4,942.0 391.4,1016.9 392.3,1011.4 393.3,1013.3 394.2,1019.9 395.2,1007.2 396.2,1034.4 397.1,1026.5 398.1,1016.6 399.0,1011.6 400.0,1013.8 400.9,1020.5 401.9,1045.9 402.8,1018.8 403.8,1038.0 404.8,1004.0 405.7,1039.8 406.7,1061.7 407.6,1048.4 408.6,1053.4 409.5,1072.0 410.5,1072.0 411.4,1048.4 412.4,1070.2 413.3,1056.7 414.3,1041.7 415.3,1046.2 416.2,1049.0 417.2,1062.9 418.1,1046.5 419.1,1064.4 420.0,1041.9 421.0,1041.0 421.9,1056.3 422.9,1039.3 423.9,1065.0 424.8,1066.0 425.8,1062.7 426.7,1048.4 427.7,1055.2 428.6,1023.8 429.6,1061.6 430.5,1020.5 431.5,1016.0 432.4,1030.6 433.4,1023.9 434.4,1023.9 435.3,994.9 436.3,1022.7 437.2,1012.6 438.2,1007.7 439.1,1031.5 440.1,982.0 441.0,1007.8 442.0,1020.5 443.0,1024.3 443.9,1013.0 444.9,1024.9 445.8,1022.5 446.8,1032.3 447.7,1028.3 448.7,1035.9 449.6,1008.3 450.6,1017.6 451.5,1013.6 452.5,1032.9 453.5,1034.4 454.4,1029.5 455.4,1011.1 456.3,1028.3 457.3,1028.8 458.2,1039.7 459.2,1053.7 460.1,1021.3 461.1,1051.4 462.1,1037.7 463.0,1034.2 464.0,1034.3 464.9,1044.8 465.9,1014.3 466.8,1042.6 467.8,1046.5 468.7,1064.2 469.7,1044.4 470.6,1029.8 471.6,1062.5 472.6,1064.1 473.5,1095.0 474.5,1095.0 475.4,1068.1 476.4,1064.0 477.3,1062.3 478.3,1051.8 479.2,1066.5 480.2,1050.8 481.2,1066.3 482.1,1063.5 483.1,1044.7 484.0,1068.9 485.0,1040.6 485.9,1029.1 486.9,1044.1 487.8,1028.5 488.8,1014.1 489.7,1032.2 490.7,1048.4 491.7,1043.4 492.6,1021.4 493.6,1050.6 494.5,1040.4 495.5,1046.2 496.4,1062.4 497.4,1036.5 498.3,1046.8 499.3,1035.0 500.3,1027.1 501.2,1058.8 502.2,1077.1 503.1,1063.3 504.1,1056.8 505.0,1048.1 506.0,1027.3 506.9,1062.8 507.9,1076.8 508.8,1045.7 509.8,1041.5 510.8,1053.0 511.7,1055.2 512.7,1061.9 513.6,1056.9 514.6,1047.6 515.5,1080.0 516.5,1075.2 517.4,1063.4 518.4,1093.0 519.4,1073.5 520.3,1035.3 521.3,1073.5 522.2,1054.8 523.2,1001.0 524.1,1045.9 525.1,1020.8 526.0,1060.6 527.0,1042.5 527.9,1044.1 528.9,1064.2 529.9,1072.6 530.8,1044.4 531.8,1062.6 532.7,1075.6 533.7,1057.1 534.6,1070.4 535.6,1072.2 536.5,1060.6 537.5,1068.7 538.5,1038.4 539.4,1049.0 540.4,1070.9 541.3,1057.0 542.3,1074.9 543.2,1064.0 544.2,1052.7 545.1,1073.6 546.1,1024.5 547.0,1057.2 548.0,1051.6 549.0,1040.1 549.9,1045.9 550.9,1028.7 551.8,1003.4 552.8,1028.0 553.7,1011.8 554.7,1016.8 555.6,1008.1 556.6,1027.8 557.6,1032.2 558.5,986.3 559.5,1032.0 560.4,1016.3 561.4,996.2 562.3,992.4 563.3,1018.9 564.2,1027.2 565.2,1022.6 566.1,1038.4 567.1,1024.5 568.1,1039.1 569.0,1024.3 570.0,1041.2 570.9,1036.6 571.9,1042.9 572.8,1053.3 573.8,1043.8 574.7,1061.1 575.7,1055.6 576.7,1046.0 577.6,1042.2 578.6,1054.1 579.5,1053.9 580.5,1053.2 581.4,1048.1 582.4,1047.7 583.3,1043.8 584.3,1055.0 585.3,1042.5 586.2,1060.2 587.2,1068.7 588.1,1015.1 589.1,1034.5 590.0,1027.1 591.0,1014.7 591.9,1042.4 592.9,1022.2 593.8,1040.1 594.8,1026.1 595.8,1025.8 596.7,1038.7 597.7,1057.9 598.6,1017.5 599.6,1085.0 600.5,1041.4 601.5,1000.5 602.4,1044.8 603.4,942.0 604.4,1016.0 605.3,992.7 606.3,993.0 607.2,981.9 608.2,967.7 609.1,998.6 610.1,989.0 611.0,951.0 612.0,995.9 612.9,998.3 613.9,1009.7 614.9,1010.2 615.8,1013.7 616.8,1016.9 617.7,1026.9 618.7,1032.6 619.6,1030.2 620.6,1058.0 621.5,1068.8 622.5,1057.9 623.5,1059.4 624.4,1037.0 625.4,1050.8 626.3,1056.3 627.3,1064.5 628.2,1065.6 629.2,1047.9 630.1,1045.0 631.1,1042.4 632.0,1043.5 633.0,1048.1 634.0,1038.8 634.9,1036.8 635.9,1018.4 636.8,1015.1 637.8,1042.3 638.7,1053.9 639.7,1018.4 640.6,1045.1 641.6,1039.5 642.6,1050.3 643.5,1043.4 644.5,1052.5 645.4,1059.3 646.4,1058.1 647.3,1050.8 648.3,1035.8 649.2,1021.3 650.2,1051.4 651.1,1048.7 652.1,1048.1 653.1,1026.4 654.0,999.0 655.0,1061.4 655.9,1045.0 656.9,1040.0 657.8,1042.2 658.8,1075.0 659.7,1065.1 660.7,1090.0 661.7,1043.8 662.6,1039.1 663.6,1062.1 664.5,1060.3 665.5,1047.6 666.4,1046.1 667.4,1058.9 668.3,1063.9 669.3,1063.3 670.2,1054.4 671.2,1058.4 672.2,1072.7 673.1,1049.5 674.1,1050.7 675.0,1061.3 676.0,1067.6 676.9,1075.0 677.9,1046.6 678.8,1077.8 679.8,1062.6 680.8,1053.9 681.7,1051.4 682.7,1061.3 683.6,1085.3 684.6,1046.8 685.5,1066.1 686.5,1077.1 687.4,1064.1 688.4,1066.8 689.3,1075.7 690.3,1062.3 691.3,1051.5 692.2,1079.7 693.2,1064.6 694.1,1080.3 695.1,1059.7 696.0,1057.9 697.0,1045.5 697.9,1058.2 698.9,1061.2 699.9,1050.7 700.8,1037.5 701.8,1046.3 702.7,1053.1 703.7,1054.9 704.6,1073.8 705.6,1060.6 706.5,1059.5 707.5,1063.5 708.4,1043.5 709.4,1080.0 710.4,1069.5 711.3,1068.5 712.3,1071.5 713.2,1101.0 714.2,1090.1 715.1,1069.6 716.1,1090.9 717.0,1088.3 718.0,1093.2 719.0,1073.7 719.9,1068.6 720.9,1054.3 721.8,1066.0 722.8,1045.1 723.7,1031.6 724.7,1058.7 725.6,1048.6 726.6,1060.5 727.5,1018.9 728.5,1064.5 729.5,1028.7 730.4,1047.3 731.4,1049.0 732.3,1034.7 733.3,1034.1 734.2,1055.4 735.2,1055.6 736.1,1046.9 737.1,1071.4 738.1,1059.8 739.0,1082.0 740.0,1078.1 740.9,1062.4 741.9,1078.0 742.8,1069.6 743.8,1058.0 744.7,1084.1 745.7,1074.2 746.6,1068.7 747.6,1081.9 748.6,1075.4 749.5,1089.8 750.5,1077.9 751.4,1080.3 752.4,1083.7 753.3,1066.0 754.3,1087.1 755.2,1052.1 756.2,1037.8 757.2,1064.1 758.1,1053.4 759.1,1033.3 760.0,1032.3 761.0,1045.2 761.9,1037.0 762.9,1049.1 763.8,1060.0 764.8,1038.8 765.7,1076.1 766.7,1044.1 767.7,1061.1 768.6,1059.7 769.6,1074.7 770.5,1055.4 771.5,1046.9 772.4,1062.6 773.4,1042.1 774.3,1060.1 775.3,1045.2 776.3,1042.5 777.2,1025.9 778.2,1045.9 779.1,1055.4 780.1,1041.2 781.0,1051.7 782.0,1069.8 782.9,1064.9 783.9,1068.4 784.8,1046.5 785.8,1055.8 786.8,1071.6 787.7,1059.5 788.7,1065.9 789.6,1061.2 790.6,1119.0 791.5,1080.3 792.5,1086.1 793.4,1087.6 794.4,1074.3 795.4,1068.9 796.3,1075.0 797.3,1068.6 798.2,1042.2 799.2,1045.8 800.1,1037.8 801.1,1050.6 802.0,1040.5 803.0,1020.5 803.9,1013.0 804.9,1007.4 805.9,1004.5 806.8,1016.8 807.8,1024.8 808.7,989.0 809.7,1018.3 810.6,1036.1 811.6,1054.1 812.5,1119.0 813.5,1119.0 814.5,1058.1 815.4,1082.8 816.4,1068.4 817.3,1112.6 818.3,1087.5 819.2,1110.8 820.2,1092.1 821.1,1092.7 822.1,1096.4 823.0,1080.3 824.0,1071.3 825.0,1082.3 825.9,1086.6 826.9,1066.6 827.8,1063.4 828.8,1072.3 829.7,1071.0 830.7,1046.9 831.6,1063.2 832.6,1080.5 833.6,1058.9 834.5,1024.4 835.5,1031.6 836.4,1029.7 837.4,1031.1 838.3,1012.7 839.3,1002.9 840.2,1015.8 841.2,1007.9 842.1,1016.7 843.1,994.7 844.1,1017.7 845.0,1037.1 846.0,1003.9 846.9,1030.9 847.9,1000.4 848.8,1006.6 849.8,1006.5 850.7,1003.5 851.7,1001.4 852.7,962.0 853.6,1027.7 854.6,1024.0 855.5,994.9 856.5,990.1 857.4,996.7 858.4,1019.3 859.3,999.5 860.3,1011.1 861.2,1029.6 862.2,1027.4 863.2,1035.4 864.1,1039.3 865.1,1048.9 866.0,1040.6 867.0,1058.1 867.9,1078.2 868.9,1055.9 869.8,1041.7 870.8,1031.0 871.8,1051.4 872.7,1042.5 873.7,1055.3 874.6,1038.8 875.6,1016.5 876.5,1056.8 877.5,1033.8 878.4,1029.0 879.4,1017.2 880.3,1047.3 881.3,1007.7 882.3,1026.6 883.2,1019.4 884.2,1041.6 885.1,1042.3 886.1,1028.4 887.0,1015.5 888.0,1040.7 888.9,1038.8 889.9,1058.1 890.9,1030.1 891.8,1042.4 892.8,1079.4 893.7,1050.4 894.7,1068.8 895.6,1063.1 896.6,1053.2 897.5,1046.5 898.5,1050.3 899.4,1050.4 900.4,1053.5 901.4,1044.9 902.3,1047.8 903.3,1032.8 904.2,1042.4 905.2,1009.0 906.1,1039.4 907.1,1009.5 908.0,1020.9 909.0,1033.7 910.0,998.1 910.9,1003.1 911.9,1030.3 912.8,1026.8 913.8,1046.9 914.7,1021.2 915.7,1006.8 916.6,1016.9 917.6,1028.7 918.5,1035.8 919.5,1035.0 920.5,1035.8 921.4,1058.7 922.4,1060.9 923.3,1045.6 924.3,1050.1 925.2,1051.5 926.2,1050.4 927.1,1057.8 928.1,1046.0 929.1,1060.0 930.0,1061.0 931.0,1074.9 931.9,1102.9 932.9,1097.8 933.8,1087.5 934.8,1078.8 935.7,1100.4 936.7,1076.6 937.6,1107.0 938.6,1060.8 939.6,1081.7 940.5,1063.9 941.5,1087.7 942.4,1058.5 943.4,1077.9 944.3,1038.9 945.3,1042.8 946.2,1031.7 947.2,1008.8 948.2,961.0 949.1,1013.1 950.1,988.1 951.0,1016.1 952.0,968.0 952.9,990.3 953.9,1015.0 954.8,1006.9 955.8,1025.6 956.7,985.6 957.7,975.0 958.7,980.9 959.6,1010.7 960.6,979.6 961.5,993.1 962.5,1000.9 963.4,1008.1 964.4,1025.7 965.3,978.0 966.3,1000.4 967.3,1012.9 968.2,1038.2 969.2,1042.3 970.1,1042.5 971.1,1017.4 972.0,1034.5 973.0,1038.4 973.9,1063.2 974.9,1075.8 975.8,1104.0 976.8,1066.4 977.8,1097.3 978.7,1089.9 979.7,1074.9 980.6,1072.2 981.6,1055.3 982.5,1048.5 983.5,1045.0 984.4,1052.6 985.4,1032.2 986.4,1042.7 987.3,1029.2 988.3,1055.1 989.2,1019.2 990.2,1050.4 991.1,1065.7 992.1,1036.2 993.0,1056.3 994.0,1073.1 994.9,1067.3 995.9,1090.8 996.9,1088.9 997.8,1048.0 998.8,1041.2 999.7,1052.8 1000.7,1050.2 1001.6,1037.5 1002.6,1030.3 1003.5,1039.9 1004.5,986.8 1005.5,1008.3 1006.4,981.0 1007.4,961.0 1008.3,990.3 1009.3,985.2 1010.2,983.4 1011.2,1002.9 1012.1,970.0 1013.1,999.9 1014.0,1008.4 1015.0,1007.6 1016.0,1010.2 1016.9,1044.0 1017.9,1031.8 1018.8,1045.3 1019.8,1082.0 1020.7,1055.6 1021.7,1049.9 1022.6,1025.6 1023.6,1038.6 1024.6,1028.4 1025.5,1021.4 1026.5,1020.2 1027.4,1005.0 1028.4,1019.2 1029.3,1035.5 1030.3,1035.0 1031.2,1025.3 1032.2,1020.9 1033.1,1051.0 1034.1,1081.0 1035.1,1035.7 1036.0,1017.5 1037.0,1026.5 1037.9,997.2 1038.9,1040.6 1039.8,1017.7 1040.8,1014.6 1041.7,1002.4 1042.7,988.2 1043.7,1012.3 1044.6,992.7 1045.6,1021.0 1046.5,1002.2 1047.5,1021.8 1048.4,1011.1 1049.4,1023.9 1050.3,1033.4 1051.3,1019.9 1052.2,1017.9 1053.2,1012.1 1054.2,1018.8 1055.1,1014.6 1056.1,984.6 1057.0,1010.7 1058.0,995.2 1058.9,1024.9 1059.9,1014.4 1060.8,1024.9 1061.8,1029.7 1062.8,1038.5 1063.7,1028.2 1064.7,1032.5 1065.6,1044.4 1066.6,1053.7 1067.5,1037.7 1068.5,1048.2 1069.4,1050.6 1070.4,1033.2 1071.3,1060.3 1072.3,1068.0 1073.3,1057.5 1074.2,1036.3 1075.2,1049.0 1076.1,1060.2 1077.1,1050.5 1078.0,1050.8 1079.0,1070.8 1079.9,1042.6 1080.9,1035.6 1081.9,1026.0 1082.8,1025.0 1083.8,1046.5 1084.7,1002.4 1085.7,998.8 1086.6,1009.6 1087.6,953.0 1088.5,1010.8 1089.5,1015.9 1090.4,1020.3 1091.4,1022.2 1092.4,988.7 1093.3,1023.6 1094.3,1006.3 1095.2,1020.6 1096.2,1009.3 1097.1,995.7 1098.1,1034.9 1099.0,1040.2 1100.0,1002.7 1101.0,1048.0 1101.9,1016.3 1102.9,1018.9 1103.8,1013.8 1104.8,1007.5 1105.7,1036.9 1106.7,1051.1 1107.6,1028.0 1108.6,1039.4 1109.5,1004.5 1110.5,1025.4 1111.5,1028.4 1112.4,1014.5 1113.4,1035.8 1114.3,1033.7 1115.3,1047.5 1116.2,1046.6 1117.2,1090.0 1118.1,1071.9 1119.1,1056.9 1120.1,1056.2 1121.0,1059.9 1122.0,1054.5 1122.9,1069.4 1123.9,1072.3 1124.8,1068.5 1125.8,1045.5 1126.7,1097.0 1127.7,1043.6 1128.6,1057.4 1129.6,1046.4 1130.6,1052.2 1131.5,1016.4 1132.5,1040.5 1133.4,1028.4 1134.4,975.0 1135.3,1006.0 1136.3,1036.1 1137.2,1012.0 1138.2,1016.8 1139.2,1027.7 1140.1,1025.4 1141.1,1031.3 1142.0,1032.8 1143.0,1032.7 1143.9,1034.6 1144.9,1007.2 1145.8,1005.4 1146.8,1015.4 1147.7,994.4 1148.7,1014.0 1149.7,989.1 1150.6,1005.1 1151.6,1001.6 1152.5,975.5 1153.5,999.2 1154.4,1003.1 1155.4,974.7 1156.3,984.7 1157.3,983.0 1158.3,987.8 1159.2,1009.9 1160.2,1008.1 1161.1,984.0 1162.1,1012.5 1163.0,1020.2 1164.0,1009.6 1164.9,1011.0 1165.9,1024.9 1166.8,993.6 1167.8,985.3 1168.8,1030.1 1169.7,994.8 1170.7,1003.6 1171.6,987.3 1172.6,1005.0 1173.5,1011.4 1174.5,1006.6 1175.4,1053.0 1176.4,1041.3 1177.4,1028.5 1178.3,1026.7 1179.3,998.9 1180.2,1008.0 1181.2,1002.2 1182.1,1021.6 1183.1,994.2 1184.0,1010.4 1185.0,1035.0 1185.9,1010.4 1186.9,1027.0 1187.9,1002.2 1188.8,1022.0 1189.8,1004.9 1190.7,999.1 1191.7,1011.7 1192.6,1002.0 1193.6,1001.3 1194.5,1010.4 1195.5,1009.8 1196.5,1000.4 1197.4,1028.4 1198.4,1018.7 1199.3,995.1 1200.3,990.9 1201.2,1006.6 1202.2,983.1 1203.1,1002.2 1204.1,1016.8" fill="none" stroke="#000" stroke-width="3.7" stroke-linejoin="round" stroke-linecap="butt" stroke-opacity="0.5" />
<path d="M157.8,1055.6C158.3,1052.8 160.1,1043.3 161.1,1038.9C162.1,1034.4 162.7,1031.0 163.8,1028.9C164.8,1026.7 166.1,1025.8 167.3,1026.0C168.6,1026.2 169.9,1029.4 171.1,1030.0C172.3,1030.6 173.5,1029.3 174.4,1029.6C175.4,1029.9 175.9,1031.6 176.7,1031.8C177.5,1031.9 178.4,1029.8 179.3,1030.4C180.3,1031.1 181.3,1033.4 182.2,1035.6C183.2,1037.7 184.2,1041.7 185.1,1043.3C186.0,1044.9 187.0,1044.2 187.8,1045.1C188.6,1046.0 189.1,1049.6 190.0,1048.9C190.9,1048.2 192.2,1044.1 193.3,1041.1C194.4,1038.1 195.6,1033.6 196.7,1031.1C197.8,1028.6 199.0,1025.8 200.0,1026.0C201.0,1026.2 202.0,1031.4 202.9,1032.2C203.8,1033.1 204.6,1030.4 205.6,1031.1C206.6,1031.9 207.8,1034.8 208.9,1036.7C210.0,1038.5 211.2,1040.4 212.2,1042.2C213.2,1044.1 214.0,1048.0 214.9,1047.8C215.8,1047.6 216.7,1043.7 217.8,1041.1C218.8,1038.5 219.9,1035.6 221.1,1032.2C222.3,1028.9 224.0,1023.1 225.1,1021.1C226.2,1019.1 226.8,1020.8 227.8,1020.0C228.8,1019.2 230.0,1016.4 231.1,1016.2C232.2,1016.0 233.3,1019.7 234.4,1018.9C235.6,1018.0 236.7,1013.0 237.8,1011.1C238.9,1009.3 240.0,1009.1 241.1,1007.8C242.2,1006.4 243.5,1004.0 244.4,1002.9C245.4,1001.8 245.8,1001.1 246.7,1001.1C247.5,1001.1 248.6,1002.6 249.6,1002.9C250.5,1003.2 251.3,1002.3 252.2,1002.9C253.1,1003.5 254.0,1005.7 254.9,1006.7C255.8,1007.7 256.8,1008.5 257.8,1008.9C258.7,1009.3 259.7,1008.0 260.7,1008.9C261.6,1009.8 262.4,1012.0 263.3,1014.4C264.2,1016.9 265.1,1020.4 266.0,1023.3C266.9,1026.3 267.9,1030.6 268.9,1032.2C269.9,1033.9 270.7,1033.3 271.8,1033.3C272.9,1033.4 274.4,1033.0 275.6,1032.7C276.7,1032.3 277.8,1031.2 278.9,1031.1C280.0,1031.0 281.1,1032.3 282.2,1032.2C283.3,1032.1 284.6,1030.1 285.6,1030.4C286.6,1030.8 287.3,1032.7 288.2,1034.4C289.1,1036.2 290.1,1039.4 291.1,1041.1C292.1,1042.8 293.1,1043.8 294.0,1044.4C294.9,1045.1 295.8,1046.4 296.7,1045.1C297.6,1043.8 298.4,1039.2 299.3,1036.7C300.3,1034.1 301.3,1031.9 302.2,1030.0C303.2,1028.1 304.4,1027.0 305.1,1025.6C305.9,1024.1 306.0,1020.0 306.7,1021.1C307.3,1022.2 308.0,1030.2 308.9,1032.2C309.8,1034.3 311.2,1033.5 312.2,1033.3C313.2,1033.1 314.1,1031.2 314.9,1031.1C315.7,1031.0 316.3,1034.7 317.1,1032.7C318.0,1030.6 319.0,1021.9 320.0,1018.9C321.0,1015.9 322.0,1015.4 322.9,1014.9C323.8,1014.3 324.7,1014.9 325.6,1015.6C326.4,1016.2 327.3,1016.3 328.2,1018.9C329.1,1021.5 330.1,1026.3 331.1,1031.1C332.1,1035.9 333.1,1042.8 334.0,1047.8C334.9,1052.8 335.9,1057.7 336.7,1061.1C337.5,1064.5 338.1,1067.0 338.9,1068.2C339.7,1069.4 340.6,1068.9 341.6,1068.2C342.5,1067.6 343.4,1067.5 344.4,1064.4C345.5,1061.4 346.7,1055.7 347.8,1050.0C348.9,1044.3 350.1,1035.4 351.1,1030.0C352.1,1024.6 353.1,1020.4 354.0,1017.8C354.9,1015.2 355.9,1013.5 356.7,1014.4C357.5,1015.4 358.0,1020.6 358.9,1023.3C359.8,1026.1 361.1,1028.9 362.2,1031.1C363.3,1033.3 364.4,1034.3 365.6,1036.7C366.7,1039.1 367.9,1041.5 368.9,1045.6C369.9,1049.6 370.7,1058.0 371.6,1061.1C372.4,1064.3 373.1,1064.1 374.0,1064.4C374.9,1064.8 375.8,1065.7 376.7,1063.3C377.6,1060.9 378.4,1055.6 379.3,1050.0C380.3,1044.4 381.4,1035.2 382.2,1030.0C383.1,1024.8 383.8,1022.4 384.4,1018.9C385.1,1015.4 385.4,1009.6 386.0,1008.9C386.6,1008.1 387.1,1013.3 387.8,1014.4C388.4,1015.6 389.3,1015.6 390.0,1015.6C390.7,1015.5 391.6,1013.4 392.2,1014.0C392.9,1014.6 393.4,1016.6 394.0,1018.9C394.6,1021.2 394.9,1027.4 395.6,1027.8C396.2,1028.1 396.9,1022.6 397.8,1021.1C398.6,1019.6 399.7,1018.5 400.7,1018.9C401.6,1019.3 402.3,1020.4 403.3,1023.3C404.3,1026.3 405.6,1033.0 406.7,1036.7C407.7,1040.4 408.6,1044.1 409.6,1045.6C410.5,1047.0 411.2,1046.7 412.2,1045.6C413.2,1044.4 414.6,1038.9 415.6,1038.9C416.5,1038.9 417.0,1043.7 417.8,1045.6C418.5,1047.4 419.1,1049.8 420.0,1050.0C420.9,1050.2 422.3,1046.7 423.3,1046.7C424.3,1046.7 425.1,1050.6 426.0,1050.0C426.9,1049.4 427.9,1046.3 428.9,1043.3C429.9,1040.4 431.1,1036.3 432.2,1032.2C433.3,1028.1 434.5,1022.1 435.6,1018.9C436.6,1015.6 437.7,1013.4 438.4,1012.7C439.2,1011.9 439.2,1013.4 440.0,1014.4C440.8,1015.5 442.3,1016.3 443.3,1018.9C444.4,1021.5 445.3,1027.9 446.2,1030.0C447.1,1032.1 448.0,1032.5 448.9,1031.8C449.8,1031.0 450.6,1026.5 451.6,1025.6C452.5,1024.6 453.5,1025.3 454.4,1026.0C455.4,1026.7 456.4,1028.8 457.3,1030.0C458.3,1031.2 459.0,1032.6 460.0,1033.3C461.0,1034.1 462.3,1034.3 463.3,1034.4C464.4,1034.6 465.3,1032.2 466.2,1034.4C467.1,1036.7 467.9,1043.3 468.9,1047.8C469.9,1052.2 471.2,1058.7 472.2,1061.1C473.3,1063.5 474.2,1062.6 475.1,1062.2C476.0,1061.9 476.9,1060.2 477.8,1058.9C478.7,1057.6 479.5,1055.4 480.4,1054.4C481.4,1053.5 482.4,1054.8 483.3,1053.3C484.3,1051.9 485.3,1048.0 486.2,1045.6C487.1,1043.1 488.0,1040.2 488.9,1038.9C489.8,1037.6 490.6,1037.2 491.6,1037.8C492.5,1038.3 493.5,1041.2 494.4,1042.2C495.4,1043.2 496.4,1042.3 497.3,1043.8C498.3,1045.3 499.0,1049.6 500.0,1051.1C501.0,1052.6 502.2,1052.5 503.3,1052.7C504.4,1052.9 505.6,1052.5 506.7,1052.2C507.8,1052.0 509.0,1050.4 510.0,1051.1C511.0,1051.9 511.9,1054.4 512.9,1056.7C513.9,1058.9 515.0,1064.8 516.0,1064.4C517.0,1064.1 517.9,1056.6 518.9,1054.4C519.9,1052.3 520.9,1053.3 521.8,1051.8C522.7,1050.3 523.6,1046.7 524.4,1045.6C525.3,1044.4 525.9,1043.1 526.7,1045.1C527.5,1047.1 528.3,1054.8 529.3,1057.8C530.4,1060.7 531.8,1061.5 532.9,1062.9C534.0,1064.3 535.0,1067.4 536.0,1066.0C537.0,1064.6 537.9,1057.1 538.9,1054.4C539.9,1051.8 540.9,1050.8 541.8,1050.0C542.7,1049.2 543.4,1050.4 544.4,1049.6C545.4,1048.7 546.7,1048.7 547.8,1045.1C548.9,1041.5 550.0,1032.3 551.1,1027.8C552.2,1023.2 553.3,1020.4 554.4,1017.8C555.6,1015.2 556.9,1013.6 557.8,1012.2C558.7,1010.9 559.2,1009.3 560.0,1009.6C560.8,1009.9 561.7,1012.1 562.7,1014.0C563.6,1015.9 564.6,1018.1 565.6,1021.1C566.5,1024.1 567.4,1029.1 568.4,1032.2C569.4,1035.4 570.6,1037.8 571.6,1040.0C572.6,1042.2 573.4,1044.7 574.4,1045.6C575.5,1046.4 576.8,1044.2 577.8,1045.1C578.8,1046.0 579.5,1050.0 580.4,1051.1C581.4,1052.2 582.3,1052.7 583.3,1051.8C584.4,1050.9 585.7,1048.3 586.7,1045.6C587.7,1042.9 588.4,1037.8 589.3,1035.6C590.3,1033.3 591.3,1030.9 592.2,1032.2C593.2,1033.5 594.3,1040.4 595.1,1043.3C596.0,1046.3 596.5,1051.5 597.3,1050.0C598.1,1048.5 599.0,1040.4 600.0,1034.4C601.0,1028.5 602.3,1021.9 603.3,1014.4C604.4,1007.0 605.4,994.8 606.2,990.0C607.1,985.2 607.6,986.0 608.4,985.6C609.3,985.1 610.2,985.9 611.1,987.3C612.0,988.8 613.0,990.3 613.8,994.4C614.6,998.6 615.3,1005.6 616.0,1012.2C616.7,1018.9 617.0,1028.1 617.8,1034.4C618.5,1040.7 619.5,1046.1 620.4,1050.0C621.4,1053.9 622.4,1056.9 623.3,1057.8C624.3,1058.7 625.3,1056.6 626.2,1055.6C627.1,1054.6 627.9,1053.8 628.9,1051.8C629.9,1049.7 631.2,1045.5 632.2,1043.3C633.3,1041.2 634.1,1039.3 635.1,1038.9C636.1,1038.5 637.2,1040.0 638.2,1041.1C639.2,1042.2 640.1,1044.1 641.1,1045.6C642.1,1047.0 643.1,1049.1 644.0,1050.0C644.9,1050.9 645.7,1052.6 646.7,1051.1C647.7,1049.6 649.0,1043.5 650.0,1041.1C651.0,1038.7 652.0,1036.9 652.9,1036.7C653.8,1036.5 654.7,1037.0 655.6,1040.0C656.4,1043.0 657.0,1050.0 657.8,1054.4C658.5,1058.9 659.1,1065.2 660.0,1066.7C660.9,1068.1 662.3,1065.4 663.3,1063.3C664.4,1061.3 665.3,1056.4 666.2,1054.4C667.1,1052.5 667.9,1051.2 668.9,1051.8C669.9,1052.3 671.2,1056.2 672.2,1057.8C673.3,1059.3 674.2,1060.6 675.1,1061.1C676.0,1061.7 676.8,1061.0 677.8,1061.1C678.8,1061.2 680.0,1061.7 681.1,1061.6C682.2,1061.4 683.4,1059.7 684.4,1060.0C685.4,1060.3 686.2,1063.3 687.1,1063.3C688.0,1063.3 689.1,1061.1 690.0,1060.0C690.9,1058.9 691.4,1056.9 692.2,1056.7C693.1,1056.5 694.2,1058.7 695.1,1058.9C696.0,1059.1 696.8,1057.9 697.8,1057.8C698.8,1057.7 700.1,1058.7 701.1,1058.4C702.1,1058.2 703.1,1055.8 704.0,1056.2C704.9,1056.7 705.8,1058.4 706.7,1061.1C707.6,1063.8 708.4,1068.3 709.3,1072.2C710.3,1076.1 711.3,1082.0 712.2,1084.4C713.2,1086.9 714.2,1087.6 715.1,1086.7C716.0,1085.7 716.9,1082.8 717.8,1078.9C718.7,1075.0 719.5,1068.5 720.4,1063.3C721.4,1058.1 722.4,1051.5 723.3,1047.8C724.3,1044.1 725.4,1042.3 726.2,1041.1C727.1,1039.9 727.4,1039.4 728.4,1040.7C729.4,1042.0 731.1,1047.0 732.2,1048.9C733.3,1050.8 734.2,1049.8 735.1,1052.2C736.0,1054.6 736.8,1061.1 737.8,1063.3C738.8,1065.6 740.0,1064.6 741.1,1065.6C742.2,1066.5 743.3,1067.4 744.4,1068.9C745.6,1070.4 746.7,1073.0 747.8,1074.4C748.8,1075.9 749.7,1078.9 750.7,1077.8C751.6,1076.7 752.3,1072.8 753.3,1067.8C754.3,1062.8 755.6,1052.5 756.7,1047.8C757.7,1043.0 758.6,1040.1 759.6,1039.3C760.5,1038.6 761.3,1040.4 762.2,1043.3C763.1,1046.2 764.1,1053.1 764.9,1056.7C765.7,1060.2 766.3,1062.8 767.1,1064.4C768.0,1066.1 769.1,1067.2 770.0,1066.7C770.9,1066.1 771.4,1063.7 772.2,1061.1C773.1,1058.5 774.2,1053.6 775.1,1051.1C776.0,1048.6 776.9,1047.1 777.8,1046.0C778.7,1044.9 779.5,1044.1 780.4,1044.4C781.4,1044.7 782.5,1047.0 783.3,1047.8C784.2,1048.5 784.8,1046.5 785.6,1048.9C786.3,1051.3 786.9,1058.9 787.8,1062.2C788.7,1065.6 790.0,1065.7 791.1,1068.9C792.2,1072.0 793.4,1081.7 794.4,1081.1C795.5,1080.6 796.3,1071.5 797.3,1065.6C798.3,1059.6 799.3,1053.3 800.4,1045.6C801.6,1037.8 803.0,1024.8 804.0,1018.9C805.0,1013.0 805.9,1011.7 806.7,1010.0C807.5,1008.3 808.1,1005.6 808.9,1008.9C809.6,1012.2 810.4,1020.9 811.1,1030.0C811.9,1039.1 812.5,1053.3 813.3,1063.3C814.1,1073.3 815.2,1083.4 816.0,1090.0C816.8,1096.6 817.5,1102.3 818.2,1102.9C819.0,1103.4 819.6,1097.5 820.4,1093.3C821.3,1089.1 822.3,1081.3 823.3,1077.8C824.4,1074.3 825.6,1074.4 826.7,1072.2C827.8,1070.0 829.0,1067.4 830.0,1064.4C831.0,1061.5 832.0,1059.1 832.9,1054.4C833.8,1049.8 834.6,1043.0 835.6,1036.7C836.6,1030.4 837.9,1021.5 838.9,1016.7C839.9,1011.9 840.9,1008.7 841.8,1007.8C842.7,1006.9 843.6,1009.9 844.4,1011.1C845.3,1012.3 845.9,1015.4 846.7,1014.9C847.5,1014.3 848.4,1008.8 849.3,1007.8C850.3,1006.8 851.4,1009.0 852.2,1008.9C853.1,1008.8 853.7,1007.9 854.4,1007.3C855.2,1006.8 855.9,1004.0 856.7,1005.6C857.4,1007.1 858.3,1012.4 858.9,1016.7C859.5,1020.9 859.7,1027.4 860.4,1031.1C861.2,1034.8 862.3,1034.4 863.3,1038.9C864.4,1043.3 865.7,1055.2 866.7,1057.8C867.7,1060.4 868.4,1056.5 869.3,1054.4C870.3,1052.4 871.2,1049.3 872.2,1045.6C873.3,1041.9 874.6,1034.6 875.6,1032.2C876.6,1029.8 877.3,1032.0 878.2,1031.1C879.1,1030.2 880.1,1026.1 881.1,1026.7C882.1,1027.2 883.1,1032.2 884.0,1034.4C884.9,1036.7 885.9,1038.5 886.7,1040.0C887.5,1041.5 888.1,1040.6 888.9,1043.3C889.6,1046.1 890.3,1053.9 891.1,1056.7C891.9,1059.4 892.9,1058.7 893.8,1060.0C894.7,1061.3 895.7,1064.3 896.7,1064.4C897.6,1064.6 898.6,1063.9 899.6,1061.1C900.5,1058.3 901.2,1052.6 902.2,1047.8C903.2,1043.0 904.4,1036.5 905.6,1032.2C906.7,1028.0 907.9,1023.5 908.9,1022.2C909.9,1020.9 910.6,1023.7 911.6,1024.4C912.5,1025.2 913.5,1025.2 914.4,1026.7C915.4,1028.1 916.4,1032.3 917.3,1033.3C918.3,1034.3 919.1,1031.4 920.0,1032.7C920.9,1034.0 921.7,1037.5 922.7,1041.1C923.6,1044.7 924.5,1049.3 925.6,1054.4C926.6,1059.6 927.9,1068.5 928.9,1072.2C929.9,1075.9 930.6,1074.3 931.6,1076.7C932.5,1079.1 933.5,1086.3 934.4,1086.7C935.4,1087.0 936.4,1080.9 937.3,1078.9C938.3,1076.9 939.2,1075.0 940.0,1074.4C940.8,1073.9 941.5,1078.9 942.2,1075.6C943.0,1072.2 943.6,1062.0 944.4,1054.4C945.3,1046.9 946.2,1037.4 947.1,1030.0C948.0,1022.6 949.3,1014.4 950.0,1010.0C950.7,1005.6 950.8,1003.9 951.6,1003.3C952.3,1002.8 953.5,1005.9 954.4,1006.7C955.4,1007.4 956.4,1009.4 957.3,1007.8C958.3,1006.1 959.2,998.7 960.0,996.7C960.8,994.6 961.5,993.7 962.2,995.6C963.0,997.4 963.6,1004.9 964.4,1007.8C965.3,1010.6 966.3,1009.7 967.1,1012.7C967.9,1015.6 968.5,1019.7 969.3,1025.6C970.2,1031.4 971.3,1040.4 972.2,1047.8C973.2,1055.2 974.2,1064.3 975.1,1070.0C976.0,1075.7 976.9,1081.9 977.8,1082.2C978.7,1082.6 979.5,1078.3 980.4,1072.2C981.4,1066.1 982.3,1050.9 983.3,1045.6C984.4,1040.2 985.7,1040.2 986.7,1040.0C987.7,1039.8 988.5,1042.0 989.3,1044.4C990.1,1046.9 990.8,1050.3 991.6,1054.4C992.3,1058.6 992.9,1067.0 993.8,1069.6C994.6,1072.1 995.7,1071.0 996.7,1069.6C997.6,1068.1 998.6,1067.7 999.6,1061.1C1000.5,1054.5 1001.2,1039.6 1002.2,1030.0C1003.2,1020.4 1004.5,1010.4 1005.6,1003.3C1006.6,996.2 1007.5,988.8 1008.4,987.3C1009.4,985.9 1010.4,991.2 1011.1,994.4C1011.9,997.7 1012.1,1004.3 1012.9,1006.7C1013.6,1009.1 1014.7,1005.7 1015.6,1008.9C1016.4,1012.0 1017.0,1021.5 1017.8,1025.6C1018.5,1029.6 1019.1,1031.6 1020.0,1033.3C1020.9,1035.1 1022.4,1036.8 1023.3,1036.2C1024.3,1035.7 1024.9,1032.9 1025.6,1030.0C1026.2,1027.1 1026.6,1020.4 1027.1,1018.9C1027.7,1017.4 1028.2,1018.5 1028.9,1021.1C1029.6,1023.7 1030.4,1033.3 1031.1,1034.4C1031.9,1035.6 1032.4,1029.1 1033.3,1027.8C1034.3,1026.5 1035.7,1028.7 1036.7,1026.7C1037.6,1024.6 1038.1,1019.6 1038.9,1015.6C1039.6,1011.5 1040.4,1003.5 1041.1,1002.2C1041.9,1000.9 1042.6,1005.8 1043.3,1007.8C1044.1,1009.7 1044.6,1012.7 1045.6,1014.0C1046.5,1015.3 1047.8,1015.3 1048.9,1015.6C1050.0,1015.8 1051.2,1016.7 1052.2,1015.6C1053.3,1014.4 1054.4,1009.8 1055.1,1008.9C1055.9,1008.0 1056.1,1008.3 1056.7,1010.0C1057.2,1011.7 1057.5,1015.9 1058.2,1018.9C1059.0,1021.9 1060.1,1025.0 1061.1,1027.8C1062.1,1030.6 1063.1,1033.4 1064.0,1035.6C1064.9,1037.7 1065.5,1040.8 1066.2,1040.7C1067.0,1040.6 1067.6,1034.4 1068.4,1034.9C1069.3,1035.3 1070.2,1040.8 1071.1,1043.3C1072.0,1045.9 1072.9,1048.4 1073.8,1050.0C1074.7,1051.6 1075.7,1052.9 1076.7,1052.7C1077.6,1052.5 1078.6,1051.6 1079.6,1048.9C1080.5,1046.2 1081.4,1042.0 1082.2,1036.7C1083.0,1031.3 1083.7,1021.3 1084.4,1016.7C1085.2,1012.0 1085.9,1010.6 1086.7,1008.9C1087.5,1007.2 1088.5,1006.5 1089.3,1006.7C1090.1,1006.9 1090.8,1008.1 1091.6,1010.0C1092.3,1011.9 1092.9,1016.1 1093.8,1017.8C1094.6,1019.4 1095.8,1019.1 1096.7,1020.0C1097.5,1020.9 1098.0,1022.9 1098.9,1023.3C1099.7,1023.8 1100.9,1021.6 1101.8,1022.9C1102.7,1024.2 1103.4,1029.6 1104.4,1031.1C1105.4,1032.6 1106.9,1032.1 1107.8,1031.8C1108.7,1031.4 1109.3,1027.7 1110.0,1028.9C1110.7,1030.1 1111.3,1035.4 1112.2,1038.9C1113.1,1042.4 1114.6,1046.7 1115.6,1050.0C1116.6,1053.3 1117.4,1056.7 1118.2,1058.9C1119.0,1061.1 1119.8,1063.7 1120.4,1063.3C1121.1,1063.0 1121.6,1057.0 1122.2,1056.7C1122.9,1056.3 1123.6,1060.6 1124.4,1061.1C1125.3,1061.7 1126.3,1061.7 1127.1,1060.0C1127.9,1058.3 1128.7,1054.3 1129.3,1051.1C1130.0,1048.0 1130.4,1045.7 1131.1,1041.1C1131.8,1036.5 1132.6,1028.1 1133.3,1023.3C1134.1,1018.5 1134.9,1014.5 1135.6,1012.2C1136.2,1009.9 1136.7,1008.4 1137.3,1009.6C1138.0,1010.7 1138.8,1015.9 1139.6,1018.9C1140.3,1021.9 1141.0,1026.7 1141.8,1027.8C1142.6,1028.9 1143.6,1027.6 1144.4,1025.6C1145.3,1023.5 1146.2,1018.9 1147.1,1015.6C1148.0,1012.2 1149.0,1008.3 1150.0,1005.6C1151.0,1002.8 1152.2,1000.4 1153.3,998.9C1154.4,997.4 1155.6,996.3 1156.7,996.7C1157.7,997.0 1158.7,999.3 1159.6,1001.1C1160.4,1003.0 1161.0,1005.6 1161.8,1007.8C1162.5,1009.9 1163.2,1013.3 1164.0,1014.0C1164.8,1014.7 1165.7,1013.4 1166.7,1012.2C1167.7,1011.0 1169.1,1006.3 1170.0,1006.7C1170.9,1007.0 1171.4,1012.6 1172.2,1014.4C1173.1,1016.3 1174.0,1016.7 1175.1,1017.8C1176.2,1018.8 1177.7,1021.0 1178.9,1020.7C1180.1,1020.3 1181.1,1016.8 1182.2,1015.6C1183.3,1014.3 1184.3,1013.8 1185.6,1013.3C1186.9,1012.9 1188.5,1012.8 1190.0,1012.7C1191.5,1012.6 1193.1,1012.8 1194.4,1012.7C1195.7,1012.5 1196.8,1013.0 1197.8,1011.8C1198.8,1010.5 1199.6,1005.6 1200.4,1005.1C1201.3,1004.6 1202.0,1007.6 1202.7,1008.9C1203.3,1010.1 1204.1,1012.0 1204.4,1012.7" fill="none" stroke="#000" stroke-width="3.9" stroke-linejoin="round" stroke-linecap="butt"/>
<line x1="268.9" y1="1115.1" x2="364.4" y2="1115.1" stroke="#000080" stroke-width="4.1" stroke-linecap="butt"/>
<line x1="316.7" y1="1100.4" x2="316.7" y2="1130.7" stroke="#000080" stroke-width="4.1" stroke-linecap="butt"/>
<line x1="276.7" y1="1133.3" x2="446.7" y2="1133.3" stroke="#000080" stroke-width="4.1" stroke-linecap="butt"/>
<line x1="361.6" y1="1118.2" x2="361.6" y2="1148.4" stroke="#000080" stroke-width="4.1" stroke-linecap="butt"/>
<line x1="381.6" y1="1107.8" x2="457.8" y2="1107.8" stroke="#000080" stroke-width="4.1" stroke-linecap="butt"/>
<line x1="419.6" y1="1092.9" x2="419.6" y2="1122.7" stroke="#000080" stroke-width="4.1" stroke-linecap="butt"/>
<line x1="471.1" y1="1122.7" x2="513.3" y2="1122.7" stroke="#000080" stroke-width="4.1" stroke-linecap="butt"/>
<line x1="492.7" y1="1097.8" x2="492.7" y2="1140.0" stroke="#000080" stroke-width="4.1" stroke-linecap="butt"/>
<line x1="475.6" y1="1143.3" x2="517.3" y2="1143.3" stroke="#000080" stroke-width="4.1" stroke-linecap="butt"/>
<line x1="496.7" y1="1127.8" x2="496.7" y2="1158.9" stroke="#000080" stroke-width="4.1" stroke-linecap="butt"/>
<line x1="477.3" y1="1168.9" x2="518.9" y2="1168.9" stroke="#000080" stroke-width="4.1" stroke-linecap="butt"/>
<line x1="498.2" y1="1156.0" x2="498.2" y2="1182.0" stroke="#000080" stroke-width="4.1" stroke-linecap="butt"/>
<line x1="479.6" y1="1173.8" x2="521.1" y2="1173.8" stroke="#000080" stroke-width="4.1" stroke-linecap="butt"/>
<line x1="500.0" y1="1160.0" x2="500.0" y2="1188.0" stroke="#000080" stroke-width="4.1" stroke-linecap="butt"/>
<line x1="473.3" y1="1183.8" x2="515.6" y2="1183.8" stroke="#000080" stroke-width="4.1" stroke-linecap="butt"/>
<line x1="494.4" y1="1170.0" x2="494.4" y2="1197.8" stroke="#000080" stroke-width="4.1" stroke-linecap="butt"/>
<line x1="481.1" y1="1239.6" x2="522.9" y2="1239.6" stroke="#000080" stroke-width="4.1" stroke-linecap="butt"/>
<line x1="501.8" y1="1224.4" x2="501.8" y2="1254.4" stroke="#000080" stroke-width="4.1" stroke-linecap="butt"/>
<line x1="570.0" y1="1188.9" x2="611.8" y2="1188.9" stroke="#000080" stroke-width="4.1" stroke-linecap="butt"/>
<line x1="591.1" y1="1174.0" x2="591.1" y2="1204.0" stroke="#000080" stroke-width="4.1" stroke-linecap="butt"/>
<line x1="610.0" y1="1183.8" x2="780.0" y2="1183.8" stroke="#000080" stroke-width="4.1" stroke-linecap="butt"/>
<line x1="694.9" y1="1163.8" x2="694.9" y2="1204.4" stroke="#000080" stroke-width="4.1" stroke-linecap="butt"/>
<line x1="735.1" y1="1204.4" x2="1002.7" y2="1204.4" stroke="#000080" stroke-width="4.1" stroke-linecap="butt"/>
<line x1="868.9" y1="1189.3" x2="868.9" y2="1219.6" stroke="#000080" stroke-width="4.1" stroke-linecap="butt"/>
<line x1="912.9" y1="1183.8" x2="1029.0" y2="1183.8" stroke="#000080" stroke-width="4.1" stroke-linecap="butt"/>
<line x1="971.1" y1="1168.4" x2="971.1" y2="1198.9" stroke="#000080" stroke-width="4.1" stroke-linecap="butt"/>
<line x1="950.0" y1="1183.8" x2="1048.4" y2="1183.8" stroke="#000080" stroke-width="4.1" stroke-linecap="butt"/>
<line x1="990.0" y1="1168.4" x2="990.0" y2="1198.9" stroke="#000080" stroke-width="4.1" stroke-linecap="butt"/>
<line x1="873.3" y1="1209.3" x2="1097.8" y2="1209.3" stroke="#000080" stroke-width="4.1" stroke-linecap="butt"/>
<line x1="983.3" y1="1194.4" x2="983.3" y2="1224.4" stroke="#000080" stroke-width="4.1" stroke-linecap="butt"/>
<line x1="1177.8" y1="1107.8" x2="1219.6" y2="1107.8" stroke="#000080" stroke-width="4.1" stroke-linecap="butt"/>
<line x1="1198.4" y1="1092.2" x2="1198.4" y2="1123.3" stroke="#000080" stroke-width="4.1" stroke-linecap="butt"/>
<line x1="1156.0" y1="1133.3" x2="1177.0" y2="1133.3" stroke="#000080" stroke-width="4.1" stroke-linecap="butt"/>
<line x1="1166.2" y1="1117.6" x2="1166.2" y2="1150.0" stroke="#000080" stroke-width="4.1" stroke-linecap="butt"/>
<line x1="1163.0" y1="1137.8" x2="1186.0" y2="1137.8" stroke="#000080" stroke-width="4.1" stroke-linecap="butt"/>
<line x1="1174.4" y1="1122.0" x2="1174.4" y2="1153.0" stroke="#000080" stroke-width="4.1" stroke-linecap="butt"/>
<line x1="1175.0" y1="1137.8" x2="1215.6" y2="1137.8" stroke="#000080" stroke-width="4.1" stroke-linecap="butt"/>
<line x1="1195.6" y1="1122.0" x2="1195.6" y2="1153.0" stroke="#000080" stroke-width="4.1" stroke-linecap="butt"/>
<line x1="1154.0" y1="1153.3" x2="1175.0" y2="1153.3" stroke="#000080" stroke-width="4.1" stroke-linecap="butt"/>
<line x1="1164.4" y1="1138.0" x2="1164.4" y2="1168.0" stroke="#000080" stroke-width="4.1" stroke-linecap="butt"/>
<line x1="1160.0" y1="1146.7" x2="1218.0" y2="1146.7" stroke="#000080" stroke-width="4.1" stroke-linecap="butt"/>
<line x1="1173.3" y1="1131.0" x2="1173.3" y2="1162.0" stroke="#000080" stroke-width="4.1" stroke-linecap="butt"/>
<line x1="1170.0" y1="1153.3" x2="1213.3" y2="1153.3" stroke="#000080" stroke-width="4.1" stroke-linecap="butt"/>
<line x1="1191.1" y1="1138.0" x2="1191.1" y2="1168.0" stroke="#000080" stroke-width="4.1" stroke-linecap="butt"/>
<line x1="1189.0" y1="1157.8" x2="1211.0" y2="1157.8" stroke="#000080" stroke-width="4.1" stroke-linecap="butt"/>
<line x1="1200.0" y1="1143.0" x2="1200.0" y2="1173.3" stroke="#000080" stroke-width="4.1" stroke-linecap="butt"/>
<line x1="1160.0" y1="1163.3" x2="1182.0" y2="1163.3" stroke="#000080" stroke-width="4.1" stroke-linecap="butt"/>
<line x1="1171.1" y1="1148.0" x2="1171.1" y2="1178.7" stroke="#000080" stroke-width="4.1" stroke-linecap="butt"/>
<line x1="1108.9" y1="1158.4" x2="1150.7" y2="1158.4" stroke="#000080" stroke-width="4.1" stroke-linecap="butt"/>
<line x1="1129.6" y1="1143.3" x2="1129.6" y2="1174.0" stroke="#000080" stroke-width="4.1" stroke-linecap="butt"/>
<line x1="1070.0" y1="1173.8" x2="1152.9" y2="1173.8" stroke="#000080" stroke-width="4.1" stroke-linecap="butt"/>
<line x1="1111.6" y1="1158.9" x2="1111.6" y2="1188.9" stroke="#000080" stroke-width="4.1" stroke-linecap="butt"/>
<line x1="1093.3" y1="1184.4" x2="1166.7" y2="1184.4" stroke="#000080" stroke-width="4.1" stroke-linecap="butt"/>
<line x1="1130.4" y1="1169.3" x2="1130.4" y2="1198.9" stroke="#000080" stroke-width="4.1" stroke-linecap="butt"/>
<line x1="1150.0" y1="1183.8" x2="1172.0" y2="1183.8" stroke="#000080" stroke-width="4.1" stroke-linecap="butt"/>
<line x1="1163.3" y1="1168.0" x2="1163.3" y2="1199.0" stroke="#000080" stroke-width="4.1" stroke-linecap="butt"/>
<line x1="1091.6" y1="1194.0" x2="1202.2" y2="1194.0" stroke="#000080" stroke-width="4.1" stroke-linecap="butt"/>
<line x1="1146.7" y1="1178.9" x2="1146.7" y2="1208.9" stroke="#000080" stroke-width="4.1" stroke-linecap="butt"/>
<line x1="1031.1" y1="1198.9" x2="1107.8" y2="1198.9" stroke="#000080" stroke-width="4.1" stroke-linecap="butt"/>
<line x1="1069.3" y1="1168.9" x2="1069.3" y2="1229.6" stroke="#000080" stroke-width="4.1" stroke-linecap="butt"/>
<line x1="1078.9" y1="1206.7" x2="1162.2" y2="1206.7" stroke="#000080" stroke-width="4.1" stroke-linecap="butt"/>
<line x1="1111.6" y1="1191.8" x2="1111.6" y2="1221.6" stroke="#000080" stroke-width="4.1" stroke-linecap="butt"/>
<line x1="1100.0" y1="1204.4" x2="1162.0" y2="1204.4" stroke="#000080" stroke-width="4.1" stroke-linecap="butt"/>
<line x1="1121.1" y1="1189.3" x2="1121.1" y2="1219.3" stroke="#000080" stroke-width="4.1" stroke-linecap="butt"/>
<line x1="1160.0" y1="1209.6" x2="1171.0" y2="1209.6" stroke="#000080" stroke-width="4.1" stroke-linecap="butt"/>
<line x1="1170.0" y1="1184.4" x2="1170.0" y2="1234.9" stroke="#000080" stroke-width="4.1" stroke-linecap="butt"/>
<circle cx="316.7" cy="1115.1" r="6.9" fill="#000080"/>
<circle cx="361.6" cy="1133.3" r="6.9" fill="#000080"/>
<circle cx="419.6" cy="1107.8" r="6.9" fill="#000080"/>
<circle cx="492.7" cy="1122.7" r="6.9" fill="#000080"/>
<circle cx="496.7" cy="1143.3" r="6.9" fill="#000080"/>
<circle cx="498.2" cy="1168.9" r="6.9" fill="#000080"/>
<circle cx="500.0" cy="1173.8" r="6.9" fill="#000080"/>
<circle cx="494.4" cy="1183.8" r="6.9" fill="#000080"/>
<circle cx="501.8" cy="1239.6" r="6.9" fill="#000080"/>
<circle cx="591.1" cy="1188.9" r="6.9" fill="#000080"/>
<circle cx="694.9" cy="1183.8" r="6.9" fill="#000080"/>
<circle cx="868.9" cy="1204.4" r="6.9" fill="#000080"/>
<circle cx="971.1" cy="1183.8" r="6.9" fill="#000080"/>
<circle cx="990.0" cy="1183.8" r="6.9" fill="#000080"/>
<circle cx="983.3" cy="1209.3" r="6.9" fill="#000080"/>
<circle cx="1198.4" cy="1107.8" r="6.9" fill="#000080"/>
<circle cx="1166.2" cy="1133.3" r="6.9" fill="#000080"/>
<circle cx="1174.4" cy="1137.8" r="6.9" fill="#000080"/>
<circle cx="1195.6" cy="1137.8" r="6.9" fill="#000080"/>
<circle cx="1164.4" cy="1153.3" r="6.9" fill="#000080"/>
<circle cx="1173.3" cy="1146.7" r="6.9" fill="#000080"/>
<circle cx="1191.1" cy="1153.3" r="6.9" fill="#000080"/>
<circle cx="1200.0" cy="1157.8" r="6.9" fill="#000080"/>
<circle cx="1171.1" cy="1163.3" r="6.9" fill="#000080"/>
<circle cx="1129.6" cy="1158.4" r="6.9" fill="#000080"/>
<circle cx="1111.6" cy="1173.8" r="6.9" fill="#000080"/>
<circle cx="1130.4" cy="1184.4" r="6.9" fill="#000080"/>
<circle cx="1163.3" cy="1183.8" r="6.9" fill="#000080"/>
<circle cx="1146.7" cy="1194.0" r="6.9" fill="#000080"/>
<circle cx="1069.3" cy="1198.9" r="6.9" fill="#000080"/>
<circle cx="1111.6" cy="1206.7" r="6.9" fill="#000080"/>
<circle cx="1121.1" cy="1204.4" r="6.9" fill="#000080"/>
<circle cx="1170.0" cy="1209.6" r="6.9" fill="#000080"/>
<polyline points="156.7,1296.7 162.2,1291.1 168.2,1351.1 174.0,1296.7 180.7,1304.0 186.7,1325.6 192.2,1280.0 198.4,1285.6 204.4,1357.8 210.0,1305.6 216.2,1306.7 222.2,1301.1 227.8,1302.2 234.0,1239.6 240.0,1318.9 245.6,1340.0 251.8,1290.0 257.8,1349.3 263.8,1280.0 269.6,1274.4 275.6,1298.9 281.6,1291.1 287.8,1270.0 293.3,1273.3 299.3,1252.2 305.6,1265.6 311.8,1272.2 317.3,1330.0 323.3,1310.0 329.6,1305.6 334.9,1325.6 341.1,1275.6 346.7,1334.4 352.7,1376.7 358.9,1356.7 364.4,1332.2 370.4,1340.0 376.7,1341.8 382.7,1372.2 388.9,1288.9 394.4,1286.7 400.7,1331.1 406.7,1326.7 412.9,1261.8 418.4,1280.0 424.9,1239.6 430.4,1286.7 436.7,1354.4 442.9,1351.1 448.9,1316.7 461.1,1331.1 466.7,1331.1 472.9,1382.2 478.2,1308.9 484.4,1308.9 490.7,1288.9 496.7,1297.3 502.7,1305.6 508.9,1334.4 515.1,1324.4 521.1,1315.6 527.1,1308.9 533.3,1275.6 538.9,1272.9 544.9,1301.1 550.7,1314.4 556.7,1337.8 562.7,1322.2 568.9,1246.2 574.9,1316.7 581.1,1295.6 587.1,1325.6 593.3,1284.4 600.0,1305.6 606.2,1258.9 612.2,1318.9 618.9,1290.7 624.9,1318.9 631.1,1288.9 637.8,1235.6 644.0,1235.6 650.7,1280.0 656.7,1318.9 663.3,1307.8 669.3,1311.1 675.6,1334.4 682.2,1344.4 688.4,1367.8 694.4,1351.1 702.2,1334.4 708.9,1334.4 715.6,1351.1 721.8,1356.7 727.8,1307.8 734.4,1326.7 741.1,1313.3 747.8,1307.8 754.4,1367.8 761.1,1305.6 767.8,1350.0 774.4,1347.1 781.1,1279.6 787.8,1373.3 795.1,1335.6 801.8,1290.7 808.4,1324.4 815.6,1334.4 822.7,1341.1 828.9,1353.3 835.6,1395.6 842.2,1397.8 849.3,1292.2 856.0,1308.9 863.3,1341.8 870.0,1322.7 877.3,1314.4 884.4,1292.2 898.2,1346.7 904.9,1366.2 912.2,1310.0 919.6,1257.3 926.7,1293.3 933.8,1338.9 941.1,1313.3 947.8,1318.9 954.9,1270.0 962.2,1257.8 969.3,1284.4 976.7,1328.9 984.0,1310.0 991.1,1360.0 998.9,1304.4 1001.1,1341.1 1005.6,1335.6 1011.1,1348.9 1015.6,1317.8 1020.0,1333.3 1023.3,1342.2 1026.0,1306.7 1028.9,1333.3 1032.2,1360.0 1036.7,1317.8 1040.0,1282.2 1044.4,1322.2 1046.7,1273.3 1049.3,1321.1 1056.7,1308.9 1061.1,1354.4 1063.3,1324.4 1065.6,1356.7 1067.8,1331.1 1073.3,1360.0 1076.0,1296.7 1078.9,1346.7 1082.2,1315.6 1084.4,1347.8 1086.7,1310.0 1090.4,1393.3 1092.9,1311.1 1095.1,1356.7 1097.8,1324.4 1101.1,1338.9 1104.4,1315.6 1107.1,1288.9 1113.3,1297.8 1119.6,1323.3 1121.8,1278.2 1126.0,1325.6 1133.3,1282.7 1140.4,1346.2 1144.4,1276.7 1148.4,1337.8 1152.9,1268.4 1157.8,1326.7 1163.3,1280.0 1167.8,1385.6 1169.6,1333.3 1172.2,1356.7 1175.1,1337.8 1180.7,1315.6 1184.4,1333.3 1188.4,1348.9 1192.7,1300.0 1198.9,1305.6 1204.4,1257.8" fill="none" stroke="#d62728" stroke-width="3.7" stroke-linejoin="round" stroke-linecap="butt" stroke-opacity="0.5" />
<polyline points="156.7,1296.7 162.2,1321.1 168.2,1323.3 174.0,1297.8 180.7,1313.3 186.7,1302.2 192.2,1281.1 198.4,1321.1 204.4,1330.0 210.0,1304.0 216.2,1301.8 222.2,1298.9 227.8,1271.1 234.0,1275.1 240.0,1325.6 245.6,1315.6 251.8,1319.6 257.8,1316.7 263.8,1280.0 269.6,1285.6 275.6,1294.4 281.6,1280.0 287.8,1271.1 293.3,1264.0 299.3,1260.0 305.6,1270.0 311.8,1302.2 317.3,1320.0 323.3,1308.9 329.6,1315.6 334.9,1300.4 341.1,1300.4 346.7,1348.4 352.7,1366.2 358.9,1343.3 364.4,1336.0 370.4,1341.8 376.7,1356.7 382.7,1328.9 388.9,1289.3 394.4,1308.9 400.7,1328.9 406.7,1300.0 412.9,1272.2 418.4,1260.4 424.9,1266.7 430.4,1323.3 436.7,1354.4 442.9,1334.4 448.9,1315.6 461.1,1330.0 466.7,1357.8 472.9,1346.2 478.2,1310.0 484.4,1299.6 490.7,1292.2 496.7,1301.1 502.7,1315.6 508.9,1329.3 515.1,1321.1 521.1,1317.3 527.1,1295.6 533.3,1274.4 538.9,1291.1 544.9,1306.7 550.7,1322.2 556.7,1335.6 562.7,1286.7 568.9,1281.1 574.9,1304.4 581.1,1310.0 587.1,1304.4 593.3,1293.3 600.0,1282.2 606.2,1290.0 612.2,1304.0 618.9,1304.0 624.9,1310.7 631.1,1273.3 637.8,1235.6 644.0,1260.0 650.7,1298.9 656.7,1311.6 663.3,1308.9 669.3,1323.3 675.6,1337.8 682.2,1353.3 688.4,1357.8 694.4,1342.2 702.2,1334.4 708.9,1342.2 715.6,1352.9 721.8,1335.6 727.8,1317.8 734.4,1319.6 741.1,1310.0 747.8,1337.3 754.4,1336.0 761.1,1327.8 767.8,1348.9 774.4,1313.3 781.1,1326.7 787.8,1353.3 795.1,1311.6 801.8,1307.8 808.4,1328.9 815.6,1337.8 822.7,1346.7 835.6,1396.7 849.3,1300.0 856.0,1325.6 863.3,1331.1 870.0,1317.8 877.3,1303.3 884.4,1305.6 898.2,1355.6 904.9,1342.2 912.2,1287.8 919.6,1273.3 926.7,1314.4 933.8,1325.6 941.1,1314.4 947.8,1294.4 954.9,1264.4 962.2,1271.1 969.3,1307.8 976.7,1321.1 984.0,1335.1 990.0,1333.3 995.6,1326.7 999.6,1322.2 1001.1,1341.1 1005.6,1336.7 1008.9,1342.2 1013.3,1317.8 1017.8,1334.4 1021.1,1330.0 1025.6,1321.1 1028.9,1326.7 1032.2,1351.1 1036.7,1343.3 1040.0,1292.2 1042.9,1310.0 1046.0,1297.3 1048.9,1318.9 1052.2,1313.3 1056.7,1310.0 1060.0,1336.7 1063.3,1341.1 1066.7,1342.2 1071.1,1357.8 1076.0,1314.4 1078.9,1338.9 1083.3,1328.9 1086.7,1354.4 1088.9,1388.9 1092.2,1335.6 1095.6,1333.3 1097.8,1326.7 1101.1,1330.0 1104.4,1313.3 1107.1,1291.1 1111.1,1296.7 1114.0,1297.8 1117.8,1320.0 1122.2,1291.1 1124.4,1314.4 1128.4,1298.9 1131.1,1298.9 1134.4,1285.6 1138.9,1335.6 1144.4,1291.1 1147.1,1321.1 1152.9,1276.7 1157.3,1326.2 1162.2,1284.4 1167.8,1358.9 1170.0,1346.7 1173.3,1346.7 1176.7,1348.9 1180.7,1316.7 1184.4,1328.9 1188.9,1341.1 1192.7,1304.0 1196.7,1305.6 1204.4,1272.2" fill="none" stroke="#d62728" stroke-width="3.7" stroke-linejoin="round" stroke-linecap="butt" />
<polyline points="162.2,1462.2 171.6,1412.2 181.1,1469.6 190.7,1438.9 198.9,1493.3 208.2,1476.7 217.3,1493.3 226.0,1502.9 234.4,1500.0 242.9,1503.8 252.2,1495.6 261.8,1487.8 271.1,1491.1 280.4,1490.0 290.0,1496.2 299.3,1483.3 308.9,1487.8 318.2,1480.0 327.8,1488.2 337.8,1477.8 348.4,1477.3 357.8,1482.2 369.6,1472.2 380.0,1468.9 391.8,1464.4 401.6,1444.4 412.9,1456.2 422.9,1417.1 433.3,1461.6 442.9,1436.2 452.2,1480.0 461.8,1455.6 471.6,1491.1 480.7,1480.0 488.9,1493.3 496.7,1528.2 505.1,1485.6 512.9,1431.1 520.0,1474.4 527.3,1435.6 534.4,1480.7 541.1,1448.9 546.7,1434.4 551.1,1411.1 555.6,1454.4 561.1,1380.7 565.6,1404.4 570.0,1378.9 575.1,1451.1 578.9,1401.1 582.2,1434.4 585.6,1451.1 588.4,1476.7 593.3,1491.1 598.9,1536.2 604.4,1503.3 610.7,1542.2 611.6,1471.1 614.4,1507.8 615.6,1473.3 617.8,1497.8 619.6,1492.2 651.1,1493.3 657.8,1472.2 671.1,1485.6 678.9,1474.4 686.7,1482.2 704.0,1472.2 713.3,1483.3 732.2,1487.8 742.2,1468.9 753.3,1478.9 764.4,1466.7 776.7,1481.6 793.3,1468.2 804.4,1468.2 819.3,1455.6 834.4,1455.6 866.7,1468.9 883.8,1463.8 900.7,1487.3 936.7,1472.7 952.2,1467.8 969.3,1473.3 985.6,1491.1 1003.3,1478.9 1020.0,1470.0 1034.4,1461.8 1049.3,1468.2 1064.4,1483.3 1076.2,1524.4 1088.9,1515.6 1098.9,1518.9 1110.0,1513.3 1117.1,1481.1 1123.8,1507.8 1133.3,1486.7 1140.0,1437.3 1144.9,1454.4 1150.7,1473.3 1159.6,1461.1 1166.7,1459.6 1177.3,1468.9 1181.8,1445.6 1192.9,1457.8" fill="none" stroke="#008080" stroke-width="3.7" stroke-linejoin="round" stroke-linecap="butt" stroke-opacity="0.5" />
<polyline points="161.1,1436.2 171.1,1441.1 181.1,1455.6 190.7,1466.7 198.9,1485.1 208.2,1483.8 217.3,1497.1 226.0,1502.9 234.4,1502.4 242.9,1500.0 252.2,1491.8 261.8,1488.9 271.1,1490.7 280.4,1492.9 290.0,1488.9 299.3,1484.9 308.9,1483.8 318.2,1483.3 327.8,1482.2 337.8,1477.3 348.4,1479.6 357.8,1477.3 369.6,1470.4 380.0,1466.2 391.8,1454.4 402.9,1450.0 412.9,1436.7 422.9,1439.3 433.3,1448.2 442.9,1457.8 452.2,1467.3 461.8,1472.7 471.6,1484.9 480.7,1486.0 488.9,1510.0 496.7,1511.6 505.1,1463.3 512.9,1453.3 528.9,1458.9 534.4,1467.8 541.1,1436.7 546.7,1416.7 551.1,1433.3 561.1,1393.3 566.7,1392.2 571.1,1414.4 575.6,1425.6 578.9,1424.4 582.2,1443.3 585.6,1458.9 588.4,1482.9 593.3,1498.9 598.9,1535.6 604.4,1501.1 610.0,1528.9 611.1,1490.0 614.4,1485.6 615.6,1476.7 616.7,1493.3 618.9,1473.3 619.6,1491.1 651.1,1482.2 657.8,1473.3 665.6,1480.7 684.4,1477.3 704.0,1476.7 713.3,1485.1 742.2,1474.4 753.3,1472.7 776.7,1475.6 819.3,1455.6 834.4,1462.2 866.7,1466.7 883.8,1476.7 900.7,1484.4 936.7,1470.7 944.4,1470.7 952.2,1470.4 969.3,1482.2 985.6,1485.6 1003.3,1471.1 1020.0,1467.8 1034.4,1464.4 1049.3,1475.6 1063.3,1504.4 1076.2,1519.6 1088.9,1517.3 1098.9,1516.7 1108.9,1496.7 1117.1,1494.0 1123.8,1495.1 1133.3,1476.7 1139.3,1447.8 1144.0,1463.3 1150.7,1468.2 1159.6,1462.2 1163.3,1461.1 1167.8,1464.0 1176.7,1457.8 1183.3,1450.0" fill="none" stroke="#008080" stroke-width="3.7" stroke-linejoin="round" stroke-linecap="butt" />
<path d="M221.6,1602.2C222.9,1619.6 224.6,1693.9 227.3,1674.4C230.1,1655.0 230.4,1531.8 232.9,1521.1C235.4,1510.4 235.3,1592.9 237.8,1630.0C240.3,1667.1 240.7,1680.4 243.3,1675.6C246.0,1670.8 246.4,1640.1 248.9,1610.0C251.4,1579.9 251.4,1540.7 253.8,1550.0C256.2,1559.3 256.5,1637.2 258.9,1648.9C261.3,1660.6 261.1,1594.4 263.8,1598.9C266.4,1603.4 267.2,1664.3 270.0,1667.8C272.8,1671.2 273.0,1612.8 275.6,1613.3C278.1,1613.9 278.2,1666.8 280.4,1670.0C282.7,1673.2 282.8,1630.9 285.1,1626.7C287.4,1622.4 287.9,1649.3 290.0,1652.2C292.1,1655.2 292.0,1634.1 294.0,1638.9C296.0,1643.7 295.9,1676.0 298.4,1672.2C301.0,1668.5 301.9,1630.3 304.4,1623.3C307.0,1616.4 306.8,1638.3 308.9,1643.3C311.0,1648.4 311.2,1654.8 313.3,1644.4C315.5,1634.0 315.8,1601.3 317.8,1600.0C319.8,1598.7 319.4,1639.7 321.6,1638.9C323.7,1638.1 324.7,1602.5 326.7,1596.7C328.6,1590.8 328.2,1612.6 329.6,1614.4C330.9,1616.3 330.0,1598.7 332.2,1604.4C334.5,1610.2 335.8,1638.8 338.9,1638.4C342.0,1638.1 343.0,1608.1 345.1,1602.9C347.2,1597.7 346.2,1617.9 347.8,1616.7C349.4,1615.4 349.9,1596.7 351.8,1597.8C353.6,1598.8 353.6,1614.4 355.6,1621.1C357.5,1627.8 357.7,1629.3 360.0,1625.6C362.3,1621.8 362.7,1602.6 365.1,1605.6C367.5,1608.5 368.0,1634.3 370.0,1637.8C372.0,1641.2 371.7,1624.5 373.3,1620.0C374.9,1615.5 374.5,1639.4 376.7,1618.9C378.8,1598.4 379.7,1528.6 382.2,1534.4C384.8,1540.3 384.9,1630.8 387.3,1643.3C389.7,1655.9 389.8,1582.9 392.2,1586.7C394.6,1590.4 394.9,1653.3 397.3,1658.9C399.7,1664.5 399.8,1610.3 402.2,1610.0C404.6,1609.7 404.8,1665.8 407.3,1657.8C409.8,1649.8 409.5,1577.2 412.7,1576.7C415.9,1576.1 417.3,1653.2 420.7,1655.6C424.0,1658.0 424.2,1592.0 426.7,1586.7C429.2,1581.3 429.0,1643.2 431.1,1633.3C433.2,1623.5 433.0,1540.8 435.6,1545.6C438.1,1550.4 438.9,1644.8 441.6,1653.3C444.2,1661.9 444.1,1583.0 446.7,1581.1C449.2,1579.2 450.1,1640.8 452.2,1645.6C454.4,1650.4 453.4,1598.4 455.6,1601.1C457.7,1603.8 458.4,1648.7 461.1,1656.7C463.8,1664.7 464.0,1635.5 466.7,1634.4C469.3,1633.4 469.7,1665.6 472.2,1652.2C474.8,1638.9 474.9,1583.2 477.3,1578.9C479.7,1574.6 480.0,1633.6 482.2,1634.4C484.5,1635.2 484.5,1579.6 486.7,1582.2C488.8,1584.9 488.7,1646.1 491.1,1645.6C493.5,1645.0 494.3,1582.1 496.7,1580.0C499.1,1577.9 499.2,1628.9 501.1,1636.7C503.0,1644.4 503.1,1609.6 504.4,1612.2C505.8,1614.9 505.1,1649.1 506.7,1647.8C508.3,1646.4 508.7,1597.6 511.1,1606.7C513.5,1615.7 514.0,1680.5 516.7,1685.6C519.3,1690.6 520.1,1631.8 522.2,1627.8C524.4,1623.8 523.8,1675.9 525.6,1668.9C527.3,1661.8 526.9,1599.2 529.3,1598.4C531.7,1597.6 533.3,1653.7 535.6,1665.6C537.8,1677.4 537.3,1648.3 538.9,1647.8C540.5,1647.2 539.6,1665.7 542.2,1663.3C544.9,1660.9 547.3,1638.8 550.0,1637.8C552.7,1636.7 550.7,1650.4 553.3,1658.9C556.0,1667.4 557.3,1678.4 561.1,1673.3C565.0,1668.3 566.0,1640.2 569.3,1637.8C572.7,1635.4 572.7,1666.3 575.1,1663.3C577.6,1660.4 577.0,1630.1 579.6,1625.6C582.1,1621.0 582.9,1655.4 585.6,1644.4C588.2,1633.5 587.8,1586.4 590.7,1580.0C593.5,1573.6 594.6,1619.2 597.3,1617.8C600.1,1616.3 599.4,1564.7 602.2,1574.0C605.0,1583.3 606.0,1649.9 608.9,1656.7C611.8,1663.4 611.8,1600.9 614.4,1602.2C617.1,1603.6 618.1,1650.2 620.0,1662.2C621.9,1674.2 620.6,1649.3 622.2,1652.2C623.8,1655.2 624.1,1678.7 626.7,1674.4C629.2,1670.2 630.2,1635.8 632.9,1634.4C635.6,1633.1 635.3,1664.6 637.8,1668.9C640.3,1673.2 640.7,1661.7 643.3,1652.2C646.0,1642.8 646.2,1622.4 648.9,1629.6C651.6,1636.8 651.8,1681.5 654.4,1682.2C657.1,1683.0 657.6,1637.2 660.0,1632.7C662.4,1628.1 662.8,1658.6 664.4,1663.3C666.0,1668.0 664.8,1647.2 666.7,1652.2C668.5,1657.3 670.4,1678.0 672.2,1684.4C674.1,1690.8 673.4,1678.6 674.4,1678.9C675.5,1679.2 674.8,1694.1 676.7,1685.6C678.5,1677.0 679.6,1644.4 682.2,1643.3C684.9,1642.3 685.6,1679.5 687.8,1681.1C689.9,1682.7 689.5,1651.3 691.1,1650.0C692.7,1648.7 692.7,1674.2 694.4,1675.6C696.2,1676.9 696.3,1653.2 698.4,1655.6C700.6,1658.0 701.2,1688.8 703.3,1685.6C705.5,1682.4 705.2,1647.0 707.3,1642.2C709.5,1637.4 710.0,1659.2 712.2,1665.6C714.5,1672.0 714.3,1673.7 716.7,1668.9C719.1,1664.1 719.6,1645.6 722.2,1645.6C724.9,1645.6 725.5,1668.9 727.8,1668.9C730.0,1668.9 729.4,1643.2 731.6,1645.6C733.7,1648.0 734.1,1679.7 736.7,1678.9C739.2,1678.1 739.6,1645.4 742.2,1642.2C744.9,1639.0 745.4,1656.8 747.8,1665.6C750.2,1674.4 750.4,1682.1 752.2,1678.9C754.1,1675.7 754.0,1655.2 755.6,1652.2C757.2,1649.3 756.9,1670.4 758.9,1666.7C760.9,1662.9 761.8,1636.1 763.8,1636.7C765.8,1637.2 765.2,1669.7 767.3,1668.9C769.5,1668.1 770.4,1635.7 772.7,1633.3C774.9,1630.9 774.6,1657.0 776.7,1658.9C778.7,1660.8 778.8,1650.8 781.1,1641.1C783.4,1631.4 783.8,1615.0 786.2,1618.4C788.6,1621.9 788.6,1650.1 791.1,1655.6C793.6,1661.0 794.5,1646.2 796.7,1641.1C798.8,1636.0 798.2,1642.2 800.0,1634.4C801.8,1626.7 801.8,1605.4 804.0,1608.9C806.2,1612.4 806.6,1647.7 809.3,1648.9C812.1,1650.1 813.0,1615.1 815.6,1614.0C818.1,1612.9 817.6,1650.7 820.0,1644.4C822.4,1638.2 822.9,1588.8 825.6,1587.8C828.2,1586.7 829.0,1626.7 831.1,1640.0C833.2,1653.3 832.6,1648.8 834.4,1643.3C836.3,1637.8 836.6,1610.4 838.9,1617.1C841.2,1623.8 841.3,1670.7 844.0,1671.1C846.7,1671.5 847.0,1622.4 850.0,1618.9C853.0,1615.4 854.4,1648.7 856.7,1656.7C859.0,1664.7 858.2,1650.6 859.6,1652.2C860.9,1653.8 860.2,1664.8 862.2,1663.3C864.2,1661.8 865.6,1647.9 867.8,1646.0C869.9,1644.1 869.5,1654.6 871.1,1655.6C872.7,1656.5 872.2,1644.9 874.4,1650.0C876.7,1655.1 878.0,1675.9 880.4,1676.7C882.8,1677.5 882.2,1653.1 884.4,1653.3C886.7,1653.6 887.6,1677.2 890.0,1677.8C892.4,1678.3 892.6,1659.0 894.4,1655.6C896.3,1652.1 895.8,1668.9 897.8,1663.3C899.8,1657.7 900.5,1629.1 902.7,1632.2C904.8,1635.3 904.5,1670.8 906.7,1676.2C908.8,1681.7 909.3,1653.8 911.6,1654.9C913.8,1656.0 914.1,1679.8 916.0,1680.7C917.9,1681.5 918.0,1662.3 919.6,1658.4C921.2,1654.6 921.2,1663.3 922.7,1664.4C924.1,1665.6 923.8,1663.9 925.6,1663.3C927.3,1662.8 927.3,1665.2 930.0,1662.2C932.7,1659.3 933.7,1663.9 936.7,1651.1C939.6,1638.3 940.5,1617.7 942.2,1608.9C944.0,1600.1 942.9,1618.3 944.0,1614.4C945.1,1610.6 945.0,1581.5 946.7,1592.7C948.4,1603.9 948.6,1665.6 951.1,1661.1C953.7,1656.6 954.4,1575.7 957.3,1574.0C960.3,1572.3 961.2,1637.9 963.3,1654.0C965.5,1670.1 964.6,1640.5 966.2,1641.1C967.8,1641.8 967.8,1668.9 970.0,1656.7C972.2,1644.4 973.4,1600.4 975.6,1590.0C977.7,1579.6 977.4,1610.4 978.9,1613.3C980.4,1616.3 979.6,1593.3 981.8,1602.2C983.9,1611.1 985.0,1659.4 987.8,1650.4C990.6,1641.5 990.8,1575.5 993.3,1565.1C995.8,1554.8 995.8,1604.8 998.2,1607.3C1000.6,1609.8 1000.3,1562.0 1003.3,1575.6C1006.3,1589.1 1007.7,1651.5 1010.7,1663.8C1013.6,1676.0 1013.0,1629.2 1015.6,1626.7C1018.1,1624.2 1018.4,1649.3 1021.1,1653.3C1023.8,1657.3 1024.0,1641.6 1026.7,1643.3C1029.3,1645.1 1029.4,1668.4 1032.2,1660.7C1035.0,1652.9 1035.8,1615.5 1038.2,1611.1C1040.6,1606.7 1040.0,1651.3 1042.2,1642.2C1044.4,1633.2 1044.9,1576.3 1047.3,1573.3C1049.7,1570.4 1050.1,1622.5 1052.2,1630.0C1054.3,1637.5 1054.0,1602.3 1056.0,1604.4C1058.0,1606.6 1058.4,1643.7 1060.4,1638.9C1062.5,1634.1 1062.4,1583.4 1064.4,1584.4C1066.5,1585.5 1066.9,1644.9 1068.9,1643.3C1070.9,1641.7 1070.8,1580.6 1072.9,1577.8C1075.0,1575.0 1075.1,1630.7 1077.8,1631.8C1080.4,1632.8 1081.1,1578.4 1084.0,1582.2C1086.9,1586.1 1087.5,1640.8 1090.0,1647.8C1092.5,1654.7 1092.2,1607.6 1094.4,1611.1C1096.7,1614.6 1096.9,1666.5 1099.6,1662.2C1102.2,1658.0 1103.0,1595.2 1105.6,1593.3C1108.1,1591.5 1107.7,1658.4 1110.0,1654.4C1112.3,1650.4 1112.6,1577.8 1115.1,1576.7C1117.6,1575.5 1118.2,1642.4 1120.4,1649.6C1122.7,1656.8 1122.0,1611.1 1124.4,1606.7C1126.9,1602.2 1128.1,1630.6 1130.7,1631.1C1133.2,1631.6 1133.1,1610.8 1135.1,1608.9C1137.1,1607.0 1136.9,1622.1 1138.9,1623.3C1140.9,1624.6 1142.3,1616.2 1143.3,1614.0" fill="none" stroke="#ff0000" stroke-width="3.7" stroke-linejoin="round" stroke-linecap="butt" stroke-opacity="0.5"/>
<path d="M228.2,1606.7C228.9,1607.6 230.8,1611.0 232.2,1612.2C233.6,1613.4 235.4,1611.8 236.7,1614.0C238.0,1616.2 239.0,1621.0 240.0,1625.6C241.0,1630.1 241.9,1640.4 242.9,1641.1C243.9,1641.9 245.0,1633.7 246.0,1630.0C247.0,1626.3 247.9,1621.7 248.9,1618.9C249.9,1616.1 251.2,1615.2 252.2,1613.3C253.2,1611.5 254.0,1609.7 254.9,1607.8C255.8,1605.8 256.9,1602.3 257.8,1601.6C258.6,1600.8 259.3,1600.4 260.0,1603.3C260.7,1606.2 261.5,1614.3 262.2,1618.9C263.0,1623.5 263.7,1629.0 264.4,1631.1C265.2,1633.3 265.9,1632.3 266.7,1631.8C267.4,1631.2 268.1,1627.0 268.9,1627.8C269.6,1628.6 270.3,1633.6 271.1,1636.7C272.0,1639.7 273.1,1644.5 274.0,1646.0C274.9,1647.5 275.8,1646.4 276.7,1645.6C277.6,1644.7 278.4,1641.5 279.3,1641.1C280.3,1640.7 281.3,1642.6 282.2,1643.3C283.2,1644.1 284.1,1645.6 285.1,1645.6C286.1,1645.5 287.2,1642.5 288.2,1642.9C289.2,1643.3 290.1,1646.5 291.1,1647.8C292.1,1649.0 293.0,1650.6 294.0,1650.4C295.0,1650.3 296.1,1647.6 297.1,1646.7C298.1,1645.8 299.0,1645.6 300.0,1645.1C301.0,1644.6 302.2,1644.6 303.3,1643.8C304.4,1642.9 305.6,1641.7 306.7,1640.0C307.7,1638.3 308.6,1635.0 309.6,1633.3C310.5,1631.7 311.3,1630.6 312.2,1630.0C313.1,1629.4 314.0,1630.9 314.9,1630.0C315.8,1629.1 316.7,1626.7 317.8,1624.4C318.8,1622.2 320.0,1618.6 321.1,1616.7C322.2,1614.7 323.3,1613.3 324.4,1612.7C325.6,1612.0 326.8,1612.9 327.8,1612.7C328.8,1612.4 329.5,1610.8 330.4,1611.1C331.4,1611.4 332.3,1613.4 333.3,1614.4C334.4,1615.4 335.6,1616.7 336.7,1617.1C337.8,1617.5 338.9,1616.7 340.0,1616.7C341.1,1616.7 342.2,1617.7 343.3,1617.1C344.4,1616.6 345.6,1614.7 346.7,1613.3C347.8,1612.0 349.0,1609.3 350.0,1608.9C351.0,1608.5 351.7,1610.6 352.7,1611.1C353.6,1611.7 354.6,1612.0 355.6,1612.2C356.5,1612.5 357.5,1611.9 358.4,1612.7C359.4,1613.4 360.1,1615.6 361.1,1616.7C362.1,1617.7 363.3,1618.6 364.4,1618.9C365.6,1619.2 366.7,1618.8 367.8,1618.4C368.9,1618.1 370.2,1618.1 371.1,1616.7C372.0,1615.3 372.6,1612.6 373.3,1610.0C374.1,1607.4 374.8,1603.5 375.6,1601.1C376.3,1598.7 377.0,1596.7 377.8,1595.6C378.5,1594.4 379.3,1593.9 380.0,1594.4C380.7,1595.0 381.5,1598.7 382.2,1598.9C383.0,1599.1 383.7,1596.3 384.4,1595.6C385.2,1594.8 385.9,1593.1 386.7,1594.4C387.4,1595.7 388.1,1599.3 388.9,1603.3C389.6,1607.4 390.4,1615.0 391.1,1618.9C391.9,1622.8 392.5,1625.7 393.3,1626.7C394.2,1627.6 395.3,1623.9 396.2,1624.4C397.1,1625.0 397.9,1627.7 398.9,1630.0C399.9,1632.3 401.2,1638.4 402.2,1638.4C403.3,1638.4 404.2,1633.1 405.1,1630.0C406.0,1626.9 406.9,1621.3 407.8,1620.0C408.7,1618.7 409.5,1621.1 410.4,1622.2C411.4,1623.3 412.4,1626.3 413.3,1626.7C414.3,1627.0 415.3,1625.6 416.2,1624.4C417.1,1623.3 418.0,1620.4 418.9,1620.0C419.8,1619.6 420.6,1621.1 421.6,1622.2C422.5,1623.3 423.5,1627.6 424.4,1626.7C425.4,1625.7 426.5,1620.6 427.3,1616.7C428.2,1612.8 428.8,1606.7 429.6,1603.3C430.3,1600.0 431.0,1596.7 431.8,1596.7C432.6,1596.7 433.6,1601.3 434.4,1603.3C435.3,1605.4 436.2,1609.3 437.1,1608.9C438.0,1608.5 439.1,1602.0 440.0,1601.1C440.9,1600.2 441.5,1601.1 442.2,1603.3C443.0,1605.6 443.6,1611.3 444.4,1614.4C445.3,1617.6 446.4,1621.7 447.3,1622.2C448.3,1622.8 449.3,1618.7 450.0,1617.8C450.7,1616.9 450.8,1615.4 451.6,1616.7C452.3,1618.0 453.4,1622.8 454.4,1625.6C455.5,1628.3 456.7,1631.9 457.8,1633.3C458.9,1634.7 460.2,1633.6 461.1,1634.0C462.0,1634.4 462.5,1634.2 463.3,1635.6C464.2,1636.9 465.3,1642.4 466.2,1642.2C467.1,1642.0 468.0,1637.2 468.9,1634.4C469.8,1631.7 470.6,1627.2 471.6,1625.6C472.5,1623.9 473.5,1625.4 474.4,1624.4C475.4,1623.5 476.4,1622.4 477.3,1620.0C478.3,1617.6 479.2,1612.2 480.0,1610.0C480.8,1607.8 481.5,1606.7 482.2,1606.7C483.0,1606.7 483.6,1608.5 484.4,1610.0C485.3,1611.5 486.2,1615.6 487.1,1615.6C488.0,1615.6 489.1,1611.1 490.0,1610.0C490.9,1608.9 491.4,1608.1 492.2,1608.9C493.1,1609.6 494.2,1612.8 495.1,1614.4C496.0,1616.1 496.8,1618.0 497.8,1618.9C498.8,1619.8 500.0,1619.8 501.1,1620.0C502.2,1620.2 503.3,1618.1 504.4,1620.0C505.6,1621.9 506.7,1627.4 507.8,1631.1C508.9,1634.8 510.0,1640.0 511.1,1642.2C512.2,1644.4 513.5,1644.3 514.4,1644.4C515.4,1644.6 515.7,1642.0 516.7,1643.3C517.6,1644.6 518.9,1652.0 520.0,1652.2C521.1,1652.4 522.3,1646.7 523.3,1644.4C524.4,1642.2 525.3,1639.1 526.2,1638.9C527.1,1638.7 527.9,1642.6 528.9,1643.3C529.9,1644.1 531.2,1643.1 532.2,1643.3C533.3,1643.5 534.2,1643.1 535.1,1644.4C536.0,1645.7 536.9,1649.3 537.8,1651.1C538.7,1653.0 539.5,1655.0 540.4,1655.6C541.4,1656.1 542.4,1655.2 543.3,1654.4C544.3,1653.7 545.2,1651.5 546.2,1651.1C547.2,1650.7 548.3,1652.0 549.3,1652.2C550.3,1652.4 551.2,1651.7 552.2,1652.2C553.3,1652.8 554.3,1654.5 555.6,1655.6C556.9,1656.6 558.7,1658.3 560.0,1658.4C561.3,1658.6 562.2,1656.9 563.3,1656.2C564.4,1655.6 565.6,1655.3 566.7,1654.4C567.8,1653.6 568.9,1652.6 570.0,1651.1C571.1,1649.6 572.2,1646.9 573.3,1645.6C574.4,1644.3 575.6,1643.8 576.7,1643.3C577.8,1642.9 578.9,1644.9 580.0,1642.9C581.1,1640.9 582.2,1635.1 583.3,1631.1C584.4,1627.1 585.6,1621.9 586.7,1618.9C587.8,1615.9 588.9,1615.9 590.0,1613.3C591.1,1610.7 592.2,1606.7 593.3,1603.3C594.4,1600.0 595.7,1594.6 596.7,1593.3C597.6,1592.0 598.1,1593.5 598.9,1595.6C599.6,1597.6 600.3,1602.6 601.1,1605.6C602.0,1608.5 603.0,1611.9 604.0,1613.3C605.0,1614.7 606.1,1612.3 607.1,1614.0C608.1,1615.7 609.0,1619.4 610.0,1623.3C611.0,1627.3 612.0,1635.0 612.9,1637.8C613.8,1640.6 614.6,1639.4 615.6,1640.0C616.5,1640.6 617.5,1640.0 618.4,1641.1C619.4,1642.2 620.1,1644.4 621.1,1646.7C622.1,1648.9 623.3,1653.0 624.4,1654.4C625.6,1655.9 626.7,1655.2 627.8,1655.6C628.9,1655.9 630.0,1656.2 631.1,1656.7C632.2,1657.1 633.3,1658.4 634.4,1658.4C635.6,1658.4 636.6,1657.3 637.8,1656.7C639.0,1656.0 640.5,1654.9 641.8,1654.4C643.1,1654.0 644.4,1654.0 645.6,1654.0C646.7,1654.0 647.7,1655.1 648.9,1654.4C650.1,1653.8 651.7,1650.0 652.9,1650.0C654.1,1650.0 655.0,1653.3 656.0,1654.4C657.0,1655.6 657.9,1656.3 658.9,1656.7C659.9,1657.0 661.1,1656.3 662.2,1656.7C663.3,1657.0 664.4,1657.2 665.6,1658.9C666.7,1660.6 667.8,1664.6 668.9,1666.7C670.0,1668.7 671.1,1670.6 672.2,1671.1C673.3,1671.6 674.4,1670.0 675.6,1669.6C676.7,1669.1 677.8,1668.7 678.9,1668.2C680.0,1667.7 681.1,1667.7 682.2,1666.7C683.3,1665.7 684.4,1663.1 685.6,1662.2C686.7,1661.3 687.8,1660.9 688.9,1661.1C690.0,1661.3 691.1,1662.6 692.2,1663.3C693.3,1664.1 694.4,1665.4 695.6,1665.6C696.7,1665.7 697.6,1665.0 698.9,1664.4C700.2,1663.9 702.0,1662.4 703.3,1662.2C704.6,1662.0 705.6,1663.1 706.7,1663.3C707.8,1663.6 708.7,1664.3 710.0,1663.8C711.3,1663.2 713.0,1660.4 714.4,1660.0C715.9,1659.6 717.6,1661.1 718.9,1661.1C720.2,1661.1 720.9,1660.9 722.2,1660.0C723.5,1659.1 725.4,1655.7 726.7,1655.6C728.0,1655.4 728.9,1658.3 730.0,1658.9C731.1,1659.5 732.2,1659.7 733.3,1659.3C734.4,1659.0 735.5,1656.7 736.7,1656.7C737.9,1656.7 739.3,1658.4 740.4,1659.3C741.6,1660.3 742.1,1661.7 743.3,1662.2C744.6,1662.7 746.2,1661.5 747.8,1662.2C749.4,1663.0 751.4,1666.9 752.9,1666.7C754.4,1666.5 755.5,1662.5 756.7,1661.1C757.9,1659.7 758.7,1659.7 760.0,1658.4C761.3,1657.1 763.0,1654.9 764.4,1653.3C765.9,1651.7 767.0,1649.3 768.4,1648.9C769.9,1648.5 772.0,1651.5 773.3,1651.1C774.7,1650.7 775.6,1648.0 776.7,1646.7C777.7,1645.3 778.4,1643.5 779.6,1642.9C780.7,1642.3 782.1,1643.3 783.3,1642.9C784.5,1642.5 785.4,1641.4 786.7,1640.7C787.9,1639.9 789.1,1638.8 790.7,1638.4C792.2,1638.1 794.4,1639.4 796.0,1638.4C797.6,1637.5 798.6,1633.6 800.0,1632.7C801.4,1631.7 803.0,1633.5 804.4,1632.7C805.9,1631.9 807.7,1628.2 808.9,1627.8C810.1,1627.3 810.6,1629.0 811.6,1630.0C812.5,1631.0 813.4,1634.7 814.4,1634.0C815.5,1633.3 816.7,1628.1 817.8,1625.6C818.9,1623.0 820.0,1619.3 821.1,1618.4C822.2,1617.6 823.3,1619.8 824.4,1620.7C825.6,1621.6 826.7,1623.3 827.8,1623.8C828.9,1624.2 830.1,1622.3 831.1,1623.3C832.1,1624.4 832.9,1627.0 833.8,1630.0C834.7,1633.0 835.8,1638.8 836.7,1641.1C837.5,1643.4 838.0,1643.7 838.9,1644.0C839.7,1644.3 840.9,1643.6 841.8,1642.9C842.7,1642.2 843.6,1639.9 844.4,1640.0C845.3,1640.1 846.2,1642.1 847.1,1643.3C848.0,1644.6 849.0,1647.1 850.0,1647.3C851.0,1647.5 852.2,1644.2 853.3,1644.4C854.4,1644.7 855.6,1647.4 856.7,1648.9C857.8,1650.4 858.7,1652.5 860.0,1653.3C861.3,1654.2 863.0,1654.0 864.4,1654.0C865.9,1654.0 867.4,1652.9 868.9,1653.3C870.4,1653.8 871.9,1655.6 873.3,1656.7C874.8,1657.8 876.4,1659.0 877.8,1660.0C879.2,1661.0 880.5,1661.7 881.8,1662.9C883.1,1664.1 884.3,1667.2 885.6,1667.3C886.8,1667.5 888.0,1664.4 889.3,1663.8C890.6,1663.1 891.9,1664.5 893.3,1663.3C894.7,1662.1 896.3,1657.8 897.8,1656.7C899.3,1655.6 900.7,1656.7 902.2,1656.7C903.7,1656.7 905.4,1655.9 906.7,1656.7C908.0,1657.4 908.9,1659.6 910.0,1661.1C911.1,1662.7 912.2,1665.4 913.3,1666.0C914.4,1666.6 915.6,1664.9 916.7,1664.4C917.7,1664.0 918.6,1663.2 919.6,1663.3C920.5,1663.4 921.2,1665.3 922.2,1665.1C923.2,1664.9 924.3,1663.2 925.6,1662.2C926.9,1661.3 928.7,1661.0 930.0,1659.3C931.3,1657.7 932.2,1654.9 933.3,1652.2C934.4,1649.6 935.7,1646.3 936.7,1643.3C937.6,1640.4 938.0,1637.7 938.9,1634.4C939.7,1631.2 940.7,1625.6 941.8,1623.8C942.9,1621.9 944.4,1624.5 945.6,1623.3C946.7,1622.1 947.9,1618.4 948.9,1616.7C949.9,1614.9 950.6,1612.3 951.6,1612.7C952.5,1613.0 953.5,1616.7 954.4,1618.9C955.4,1621.0 956.2,1624.8 957.3,1625.6C958.4,1626.3 959.9,1622.3 961.1,1623.3C962.3,1624.4 963.4,1629.3 964.4,1631.8C965.4,1634.3 966.0,1638.4 967.1,1638.4C968.2,1638.5 969.7,1634.7 971.1,1632.2C972.5,1629.7 974.3,1625.6 975.6,1623.3C976.9,1621.0 977.6,1619.1 978.9,1618.4C980.2,1617.8 981.9,1620.7 983.3,1619.3C984.8,1617.9 986.3,1612.1 987.8,1610.0C989.3,1607.9 990.9,1608.9 992.2,1606.7C993.5,1604.4 994.6,1600.0 995.6,1596.7C996.6,1593.3 997.4,1587.8 998.2,1586.7C999.0,1585.6 999.6,1587.2 1000.4,1590.0C1001.3,1592.8 1002.4,1599.0 1003.3,1603.3C1004.3,1607.7 1005.2,1612.9 1006.2,1616.2C1007.2,1619.6 1008.3,1620.3 1009.3,1623.3C1010.3,1626.4 1011.2,1630.7 1012.2,1634.4C1013.3,1638.1 1014.3,1643.9 1015.6,1645.6C1016.8,1647.2 1018.4,1645.0 1019.6,1644.4C1020.7,1643.9 1021.0,1641.5 1022.2,1642.2C1023.4,1643.0 1025.4,1648.1 1026.7,1648.9C1028.0,1649.6 1028.9,1648.0 1030.0,1646.7C1031.1,1645.4 1032.0,1642.6 1033.3,1641.1C1034.6,1639.6 1036.5,1640.7 1037.8,1637.8C1039.1,1634.8 1040.0,1627.5 1041.1,1623.3C1042.2,1619.1 1043.2,1614.6 1044.4,1612.7C1045.7,1610.7 1047.3,1612.6 1048.4,1611.8C1049.6,1611.0 1050.4,1607.3 1051.6,1607.8C1052.7,1608.2 1054.1,1613.0 1055.6,1614.4C1057.0,1615.9 1058.6,1616.1 1060.0,1616.7C1061.4,1617.2 1062.8,1618.7 1064.0,1617.8C1065.2,1616.9 1066.1,1612.7 1067.1,1611.1C1068.1,1609.5 1069.0,1608.0 1070.0,1608.2C1071.0,1608.4 1072.3,1612.1 1073.3,1612.2C1074.3,1612.3 1075.1,1610.7 1076.0,1608.9C1076.9,1607.1 1077.9,1601.2 1078.9,1601.6C1079.9,1601.9 1080.9,1608.4 1081.8,1611.1C1082.7,1613.8 1083.4,1616.8 1084.4,1617.8C1085.4,1618.8 1086.7,1615.8 1087.8,1617.1C1088.9,1618.4 1090.0,1622.2 1091.1,1625.6C1092.2,1628.9 1093.3,1636.6 1094.4,1637.1C1095.6,1637.7 1096.8,1630.6 1097.8,1628.9C1098.8,1627.1 1099.3,1625.9 1100.4,1626.7C1101.6,1627.4 1103.2,1634.3 1104.4,1633.3C1105.7,1632.4 1106.7,1624.3 1107.8,1621.1C1108.8,1618.0 1109.7,1614.4 1110.7,1614.4C1111.6,1614.4 1112.4,1619.3 1113.3,1621.1C1114.2,1622.9 1115.0,1625.7 1116.0,1625.1C1117.0,1624.6 1118.5,1618.7 1119.6,1617.8C1120.6,1616.8 1121.2,1617.9 1122.2,1619.3C1123.2,1620.8 1124.4,1626.2 1125.6,1626.7C1126.7,1627.1 1127.8,1623.2 1128.9,1622.2C1130.0,1621.2 1131.3,1620.7 1132.2,1620.7C1133.1,1620.7 1134.1,1622.0 1134.4,1622.2" fill="none" stroke="#ff0000" stroke-width="3.9" stroke-linejoin="round" stroke-linecap="butt"/>
<polyline points="155.0,1828.4 156.8,1828.4 157.7,1815.6 157.9,1815.6 158.8,1828.4 160.6,1828.4 161.4,1824.4 161.7,1824.4 162.6,1828.4 168.6,1828.4 169.4,1798.9 169.7,1798.9 170.6,1828.4 180.8,1828.4 181.7,1813.3 181.9,1813.3 182.8,1828.4 190.6,1828.4 191.4,1777.8 191.7,1777.8 192.6,1828.4 196.8,1828.4 197.7,1821.1 197.9,1821.1 198.8,1828.4 203.4,1828.4 204.3,1823.3 204.6,1823.3 205.4,1828.4 210.1,1828.4 211.0,1820.0 211.2,1820.0 212.1,1828.4 220.1,1828.4 221.0,1821.1 221.2,1821.1 222.1,1828.4 225.7,1828.4 226.5,1805.1 226.8,1805.1 227.7,1828.4 231.2,1828.4 232.1,1822.2 232.3,1822.2 233.2,1828.4 239.0,1828.4 239.9,1826.2 240.1,1826.2 241.0,1828.4 246.8,1828.4 247.7,1824.4 247.9,1824.4 248.8,1828.4 251.2,1828.4 252.1,1808.9 252.3,1808.9 253.2,1828.4 259.0,1828.4 259.9,1821.1 260.1,1821.1 261.0,1828.4 264.6,1828.4 265.4,1824.9 265.7,1824.9 266.6,1828.4 267.9,1828.4 268.8,1820.0 269.0,1820.0 269.9,1828.4 275.2,1828.4 276.1,1803.3 276.3,1803.3 277.2,1828.4 286.1,1828.4 287.0,1817.3 287.2,1817.3 288.1,1828.4 303.4,1828.4 304.3,1824.9 304.6,1824.9 305.4,1828.4 309.4,1828.4 310.3,1824.4 310.6,1824.4 311.4,1828.4 313.0,1828.4 313.9,1824.9 314.1,1824.9 315.0,1828.4 336.8,1828.4 337.7,1826.2 337.9,1826.2 338.8,1828.4 352.3,1828.4 353.2,1768.4 353.5,1768.4 354.3,1828.4 359.0,1828.4 359.9,1824.0 360.1,1824.0 361.0,1828.4 370.1,1828.4 371.0,1806.0 371.2,1806.0 372.1,1828.4 379.7,1828.4 380.5,1821.1 380.8,1821.1 381.7,1828.4 412.3,1828.4 413.2,1771.6 413.5,1771.6 414.3,1828.4 422.8,1828.4 423.7,1800.0 423.9,1800.0 424.8,1828.4 431.7,1828.4 432.5,1798.9 432.8,1798.9 433.7,1828.4 440.1,1828.4 441.0,1820.0 441.2,1820.0 442.1,1828.4 440.1,1828.4 441.0,1820.0 441.2,1820.0 442.1,1828.4 449.7,1828.4 450.5,1807.1 450.8,1807.1 451.7,1828.4 460.8,1828.4 461.7,1822.7 461.9,1822.7 462.8,1828.4 469.0,1828.4 469.9,1748.9 470.1,1748.9 471.0,1828.4 474.6,1828.4 475.4,1824.9 475.7,1824.9 476.6,1828.4 495.7,1828.4 496.5,1664.4 496.8,1664.4 497.7,1828.4 500.1,1828.4 501.0,1825.6 501.2,1825.6 502.1,1828.4 506.1,1828.4 507.0,1811.1 507.2,1811.1 508.1,1828.4 512.8,1828.4 513.7,1789.3 513.9,1789.3 514.8,1828.4 522.3,1828.4 523.2,1779.6 523.5,1779.6 524.3,1828.4 541.2,1828.4 542.1,1824.0 542.3,1824.0 543.2,1828.4 562.3,1828.4 563.2,1812.9 563.5,1812.9 564.3,1828.4 569.0,1828.4 569.9,1824.0 570.1,1824.0 571.0,1828.4 574.1,1828.4 575.0,1822.7 575.2,1822.7 576.1,1828.4 577.9,1828.4 578.8,1781.1 579.0,1781.1 579.9,1828.4 609.7,1828.4 610.5,1822.7 610.8,1822.7 611.7,1828.4 612.8,1828.4 613.7,1822.7 613.9,1822.7 614.8,1828.4 619.7,1828.4 620.5,1812.9 620.8,1812.9 621.7,1828.4 637.9,1828.4 638.8,1824.9 639.0,1824.9 639.9,1828.4 646.1,1828.4 647.0,1824.0 647.2,1824.0 648.1,1828.4 669.7,1828.4 670.5,1824.0 670.8,1824.0 671.7,1828.4 676.3,1828.4 677.2,1824.0 677.5,1824.0 678.3,1828.4 681.2,1828.4 682.1,1797.8 682.3,1797.8 683.2,1828.4 686.1,1828.4 687.0,1725.6 687.2,1725.6 688.1,1828.4 691.2,1828.4 692.1,1824.9 692.3,1824.9 693.2,1828.4 697.2,1828.4 698.1,1822.2 698.3,1822.2 699.2,1828.4 703.9,1828.4 704.8,1812.2 705.0,1812.2 705.9,1828.4 707.4,1828.4 708.3,1823.3 708.6,1823.3 709.4,1828.4 727.9,1828.4 728.8,1824.0 729.0,1824.0 729.9,1828.4 731.2,1828.4 732.1,1823.3 732.3,1823.3 733.2,1828.4 737.9,1828.4 738.8,1810.7 739.0,1810.7 739.9,1828.4 752.8,1828.4 753.7,1821.1 753.9,1821.1 754.8,1828.4 761.2,1828.4 762.1,1824.4 762.3,1824.4 763.2,1828.4 765.2,1828.4 766.1,1822.7 766.3,1822.7 767.2,1828.4 777.9,1828.4 778.8,1819.6 779.0,1819.6 779.9,1828.4 790.1,1828.4 791.0,1820.0 791.2,1820.0 792.1,1828.4 799.0,1828.4 799.9,1824.9 800.1,1824.9 801.0,1828.4 807.9,1828.4 808.8,1806.2 809.0,1806.2 809.9,1828.4 812.3,1828.4 813.2,1824.4 813.5,1824.4 814.3,1828.4 817.2,1828.4 818.1,1798.9 818.3,1798.9 819.2,1828.4 823.0,1828.4 823.9,1770.7 824.1,1770.7 825.0,1828.4 842.3,1828.4 843.2,1818.9 843.5,1818.9 844.3,1828.4 856.8,1828.4 857.7,1822.7 857.9,1822.7 858.8,1828.4 861.2,1828.4 862.1,1769.3 862.3,1769.3 863.2,1828.4 866.1,1828.4 867.0,1817.8 867.2,1817.8 868.1,1828.4 874.1,1828.4 875.0,1820.0 875.2,1820.0 876.1,1828.4 881.2,1828.4 882.1,1824.0 882.3,1824.0 883.2,1828.4 886.1,1828.4 887.0,1816.0 887.2,1816.0 888.1,1828.4 891.9,1828.4 892.8,1812.2 893.0,1812.2 893.9,1828.4 910.1,1828.4 911.0,1821.1 911.2,1821.1 912.1,1828.4 913.0,1828.4 913.9,1777.3 914.1,1777.3 915.0,1828.4 925.7,1828.4 926.5,1824.0 926.8,1824.0 927.7,1828.4 937.9,1828.4 938.8,1824.0 939.0,1824.0 939.9,1828.4 944.6,1828.4 945.4,1812.2 945.7,1812.2 946.6,1828.4 954.1,1828.4 955.0,1816.2 955.2,1816.2 956.1,1828.4 970.1,1828.4 971.0,1823.3 971.2,1823.3 972.1,1828.4 976.1,1828.4 977.0,1810.7 977.2,1810.7 978.1,1828.4 979.4,1828.4 980.3,1820.0 980.6,1820.0 981.4,1828.4 980.1,1828.4 981.0,1821.1 981.2,1821.1 982.1,1828.4 983.4,1828.4 984.3,1824.0 984.6,1824.0 985.4,1828.4 983.4,1828.4 984.3,1824.4 984.6,1824.4 985.4,1828.4 996.8,1828.4 997.7,1751.1 997.9,1751.1 998.8,1828.4 1000.1,1828.4 1001.0,1824.0 1001.2,1824.0 1002.1,1828.4 1009.4,1828.4 1010.3,1824.0 1010.6,1824.0 1011.4,1828.4 1021.2,1828.4 1022.1,1768.4 1022.3,1768.4 1023.2,1828.4 1027.2,1828.4 1028.1,1742.2 1028.3,1742.2 1029.2,1828.4 1034.6,1828.4 1035.4,1823.3 1035.7,1823.3 1036.6,1828.4 1043.4,1828.4 1044.3,1795.6 1044.6,1795.6 1045.4,1828.4 1047.4,1828.4 1048.3,1795.1 1048.6,1795.1 1049.4,1828.4 1056.8,1828.4 1057.7,1822.2 1057.9,1822.2 1058.8,1828.4 1063.4,1828.4 1064.3,1824.0 1064.6,1824.0 1065.4,1828.4 1066.8,1828.4 1067.7,1823.3 1067.9,1823.3 1068.8,1828.4 1072.3,1828.4 1073.2,1807.8 1073.5,1807.8 1074.3,1828.4 1083.0,1828.4 1083.9,1823.3 1084.1,1823.3 1085.0,1828.4 1093.0,1828.4 1093.9,1800.4 1094.1,1800.4 1095.0,1828.4 1099.0,1828.4 1099.9,1824.4 1100.1,1824.4 1101.0,1828.4 1111.9,1828.4 1112.8,1824.4 1113.0,1824.4 1113.9,1828.4 1116.3,1828.4 1117.2,1822.2 1117.5,1822.2 1118.3,1828.4 1120.1,1828.4 1121.0,1811.6 1121.2,1811.6 1122.1,1828.4 1126.8,1828.4 1127.7,1824.4 1127.9,1824.4 1128.8,1828.4 1133.0,1828.4 1133.9,1818.9 1134.1,1818.9 1135.0,1828.4 1138.6,1828.4 1139.4,1825.6 1139.7,1825.6 1140.6,1828.4 1149.7,1828.4 1150.5,1818.9 1150.8,1818.9 1151.7,1828.4 1154.6,1828.4 1155.4,1825.6 1155.7,1825.6 1156.6,1828.4 1163.4,1828.4 1164.3,1822.7 1164.6,1822.7 1165.4,1828.4 1170.1,1828.4 1171.0,1809.3 1171.2,1809.3 1172.1,1828.4 1174.6,1828.4 1175.4,1825.6 1175.7,1825.6 1176.6,1828.4 1184.6,1828.4 1185.4,1825.6 1185.7,1825.6 1186.6,1828.4 1187.9,1828.4 1188.8,1825.6 1189.0,1825.6 1189.9,1828.4 1196.1,1828.4 1197.0,1795.1 1197.2,1795.1 1198.1,1828.4 1199.5,1828.4" fill="none" stroke="#8c564b" stroke-width="4.1" stroke-linejoin="round" stroke-linecap="butt" />
<line x1="153.6" y1="81.4" x2="1205.9" y2="81.4" stroke="#000" stroke-width="1.8" stroke-linecap="butt"/>
<line x1="153.6" y1="1836.0" x2="1205.9" y2="1836.0" stroke="#000" stroke-width="1.8" stroke-linecap="butt"/>
<line x1="250.0" y1="81.4" x2="250.0" y2="71.8" stroke="#000" stroke-width="1.8" stroke-linecap="butt"/>
<line x1="250.0" y1="1836.0" x2="250.0" y2="1845.6" stroke="#000" stroke-width="1.8" stroke-linecap="butt"/>
<text x="250.0" y="56.9" font-size="27.47" text-anchor="middle" fill="#000" textLength="68.2" lengthAdjust="spacingAndGlyphs" >1000</text>
<text x="250.0" y="1876.0" font-size="27.47" text-anchor="middle" fill="#000" textLength="68.2" lengthAdjust="spacingAndGlyphs" >1000</text>
<line x1="345.5" y1="81.4" x2="345.5" y2="76.0" stroke="#000" stroke-width="1.4" stroke-linecap="butt"/>
<line x1="345.5" y1="1836.0" x2="345.5" y2="1841.4" stroke="#000" stroke-width="1.4" stroke-linecap="butt"/>
<line x1="441.0" y1="81.4" x2="441.0" y2="71.8" stroke="#000" stroke-width="1.8" stroke-linecap="butt"/>
<line x1="441.0" y1="1836.0" x2="441.0" y2="1845.6" stroke="#000" stroke-width="1.8" stroke-linecap="butt"/>
<text x="441.0" y="56.9" font-size="27.47" text-anchor="middle" fill="#000" textLength="68.2" lengthAdjust="spacingAndGlyphs" >1200</text>
<text x="441.0" y="1876.0" font-size="27.47" text-anchor="middle" fill="#000" textLength="68.2" lengthAdjust="spacingAndGlyphs" >1200</text>
<line x1="536.5" y1="81.4" x2="536.5" y2="76.0" stroke="#000" stroke-width="1.4" stroke-linecap="butt"/>
<line x1="536.5" y1="1836.0" x2="536.5" y2="1841.4" stroke="#000" stroke-width="1.4" stroke-linecap="butt"/>
<line x1="632.0" y1="81.4" x2="632.0" y2="71.8" stroke="#000" stroke-width="1.8" stroke-linecap="butt"/>
<line x1="632.0" y1="1836.0" x2="632.0" y2="1845.6" stroke="#000" stroke-width="1.8" stroke-linecap="butt"/>
<text x="632.0" y="56.9" font-size="27.47" text-anchor="middle" fill="#000" textLength="68.2" lengthAdjust="spacingAndGlyphs" >1400</text>
<text x="632.0" y="1876.0" font-size="27.47" text-anchor="middle" fill="#000" textLength="68.2" lengthAdjust="spacingAndGlyphs" >1400</text>
<line x1="727.5" y1="81.4" x2="727.5" y2="76.0" stroke="#000" stroke-width="1.4" stroke-linecap="butt"/>
<line x1="727.5" y1="1836.0" x2="727.5" y2="1841.4" stroke="#000" stroke-width="1.4" stroke-linecap="butt"/>
<line x1="823.0" y1="81.4" x2="823.0" y2="71.8" stroke="#000" stroke-width="1.8" stroke-linecap="butt"/>
<line x1="823.0" y1="1836.0" x2="823.0" y2="1845.6" stroke="#000" stroke-width="1.8" stroke-linecap="butt"/>
<text x="823.0" y="56.9" font-size="27.47" text-anchor="middle" fill="#000" textLength="68.2" lengthAdjust="spacingAndGlyphs" >1600</text>
<text x="823.0" y="1876.0" font-size="27.47" text-anchor="middle" fill="#000" textLength="68.2" lengthAdjust="spacingAndGlyphs" >1600</text>
<line x1="918.5" y1="81.4" x2="918.5" y2="76.0" stroke="#000" stroke-width="1.4" stroke-linecap="butt"/>
<line x1="918.5" y1="1836.0" x2="918.5" y2="1841.4" stroke="#000" stroke-width="1.4" stroke-linecap="butt"/>
<line x1="1014.0" y1="81.4" x2="1014.0" y2="71.8" stroke="#000" stroke-width="1.8" stroke-linecap="butt"/>
<line x1="1014.0" y1="1836.0" x2="1014.0" y2="1845.6" stroke="#000" stroke-width="1.8" stroke-linecap="butt"/>
<text x="1014.0" y="56.9" font-size="27.47" text-anchor="middle" fill="#000" textLength="68.2" lengthAdjust="spacingAndGlyphs" >1800</text>
<text x="1014.0" y="1876.0" font-size="27.47" text-anchor="middle" fill="#000" textLength="68.2" lengthAdjust="spacingAndGlyphs" >1800</text>
<line x1="1109.5" y1="81.4" x2="1109.5" y2="76.0" stroke="#000" stroke-width="1.4" stroke-linecap="butt"/>
<line x1="1109.5" y1="1836.0" x2="1109.5" y2="1841.4" stroke="#000" stroke-width="1.4" stroke-linecap="butt"/>
<line x1="1205.0" y1="81.4" x2="1205.0" y2="71.8" stroke="#000" stroke-width="1.8" stroke-linecap="butt"/>
<line x1="1205.0" y1="1836.0" x2="1205.0" y2="1845.6" stroke="#000" stroke-width="1.8" stroke-linecap="butt"/>
<text x="1205.0" y="56.9" font-size="27.47" text-anchor="middle" fill="#000" textLength="68.2" lengthAdjust="spacingAndGlyphs" >2000</text>
<text x="1205.0" y="1876.0" font-size="27.47" text-anchor="middle" fill="#000" textLength="68.2" lengthAdjust="spacingAndGlyphs" >2000</text>
<text x="679.0" y="25.6" font-size="35.36" text-anchor="middle" fill="#000" textLength="134.5" lengthAdjust="spacingAndGlyphs" >Year CE</text>
<text x="679.0" y="1918.2" font-size="35.36" text-anchor="middle" fill="#000" textLength="134.5" lengthAdjust="spacingAndGlyphs" >Year CE</text>
<line x1="154.5" y1="81.0" x2="154.5" y2="261.0" stroke="#000" stroke-width="1.8" stroke-linecap="butt"/>
<line x1="145.0" y1="130.0" x2="154.5" y2="130.0" stroke="#000" stroke-width="1.8" stroke-linecap="butt"/>
<text x="135.2" y="139.8" font-size="27.47" text-anchor="end" fill="#000" >4</text>
<line x1="145.0" y1="191.0" x2="154.5" y2="191.0" stroke="#000" stroke-width="1.8" stroke-linecap="butt"/>
<text x="135.2" y="200.8" font-size="27.47" text-anchor="end" fill="#000" >2</text>
<line x1="145.0" y1="252.3" x2="154.5" y2="252.3" stroke="#000" stroke-width="1.8" stroke-linecap="butt"/>
<text x="135.2" y="262.1" font-size="27.47" text-anchor="end" fill="#000" >0</text>
<line x1="154.5" y1="367.0" x2="154.5" y2="548.0" stroke="#000" stroke-width="1.8" stroke-linecap="butt"/>
<line x1="145.0" y1="395.1" x2="154.5" y2="395.1" stroke="#000" stroke-width="1.8" stroke-linecap="butt"/>
<text x="135.2" y="404.9" font-size="27.47" text-anchor="end" fill="#000" textLength="59.7" lengthAdjust="spacingAndGlyphs" >1.75</text>
<line x1="145.0" y1="451.1" x2="154.5" y2="451.1" stroke="#000" stroke-width="1.8" stroke-linecap="butt"/>
<text x="135.2" y="460.9" font-size="27.47" text-anchor="end" fill="#000" textLength="59.7" lengthAdjust="spacingAndGlyphs" >2.00</text>
<line x1="145.0" y1="507.8" x2="154.5" y2="507.8" stroke="#000" stroke-width="1.8" stroke-linecap="butt"/>
<text x="135.2" y="517.6" font-size="27.47" text-anchor="end" fill="#000" textLength="59.7" lengthAdjust="spacingAndGlyphs" >2.25</text>
<line x1="154.5" y1="653.8" x2="154.5" y2="833.3" stroke="#000" stroke-width="1.8" stroke-linecap="butt"/>
<line x1="145.0" y1="665.6" x2="154.5" y2="665.6" stroke="#000" stroke-width="1.8" stroke-linecap="butt"/>
<text x="135.2" y="675.4" font-size="27.47" text-anchor="end" fill="#000" textLength="34.1" lengthAdjust="spacingAndGlyphs" >10</text>
<line x1="145.0" y1="740.4" x2="154.5" y2="740.4" stroke="#000" stroke-width="1.8" stroke-linecap="butt"/>
<text x="135.2" y="750.2" font-size="27.47" text-anchor="end" fill="#000" >8</text>
<line x1="145.0" y1="815.6" x2="154.5" y2="815.6" stroke="#000" stroke-width="1.8" stroke-linecap="butt"/>
<text x="135.2" y="825.4" font-size="27.47" text-anchor="end" fill="#000" >6</text>
<line x1="154.5" y1="940.0" x2="154.5" y2="1120.7" stroke="#000" stroke-width="1.8" stroke-linecap="butt"/>
<line x1="145.0" y1="963.3" x2="154.5" y2="963.3" stroke="#000" stroke-width="1.8" stroke-linecap="butt"/>
<text x="135.2" y="973.1" font-size="27.47" text-anchor="end" fill="#000" textLength="59.7" lengthAdjust="spacingAndGlyphs" >22.5</text>
<line x1="145.0" y1="1075.6" x2="154.5" y2="1075.6" stroke="#000" stroke-width="1.8" stroke-linecap="butt"/>
<text x="135.2" y="1085.4" font-size="27.47" text-anchor="end" fill="#000" textLength="59.7" lengthAdjust="spacingAndGlyphs" >22.0</text>
<line x1="154.5" y1="1227.0" x2="154.5" y2="1406.7" stroke="#000" stroke-width="1.8" stroke-linecap="butt"/>
<line x1="145.0" y1="1274.4" x2="154.5" y2="1274.4" stroke="#000" stroke-width="1.8" stroke-linecap="butt"/>
<text x="135.2" y="1284.2" font-size="27.47" text-anchor="end" fill="#000" textLength="59.7" lengthAdjust="spacingAndGlyphs" >15.5</text>
<line x1="145.0" y1="1353.3" x2="154.5" y2="1353.3" stroke="#000" stroke-width="1.8" stroke-linecap="butt"/>
<text x="135.2" y="1363.1" font-size="27.47" text-anchor="end" fill="#000" textLength="59.7" lengthAdjust="spacingAndGlyphs" >16.0</text>
<line x1="154.5" y1="1513.3" x2="154.5" y2="1693.3" stroke="#000" stroke-width="1.8" stroke-linecap="butt"/>
<line x1="145.0" y1="1545.6" x2="154.5" y2="1545.6" stroke="#000" stroke-width="1.8" stroke-linecap="butt"/>
<text x="135.2" y="1555.4" font-size="27.47" text-anchor="end" fill="#000" textLength="68.2" lengthAdjust="spacingAndGlyphs" >1000</text>
<line x1="145.0" y1="1625.6" x2="154.5" y2="1625.6" stroke="#000" stroke-width="1.8" stroke-linecap="butt"/>
<text x="135.2" y="1635.4" font-size="27.47" text-anchor="end" fill="#000" textLength="51.1" lengthAdjust="spacingAndGlyphs" >500</text>
<line x1="1205.1" y1="224.0" x2="1205.1" y2="404.4" stroke="#000" stroke-width="1.8" stroke-linecap="butt"/>
<line x1="1205.1" y1="254.4" x2="1214.6" y2="254.4" stroke="#000" stroke-width="1.8" stroke-linecap="butt"/>
<text x="1224.1" y="264.2" font-size="27.47" text-anchor="start" fill="#000" textLength="42.6" lengthAdjust="spacingAndGlyphs" >1.0</text>
<line x1="1205.1" y1="314.4" x2="1214.6" y2="314.4" stroke="#000" stroke-width="1.8" stroke-linecap="butt"/>
<text x="1224.1" y="324.2" font-size="27.47" text-anchor="start" fill="#000" textLength="42.6" lengthAdjust="spacingAndGlyphs" >1.2</text>
<line x1="1205.1" y1="373.8" x2="1214.6" y2="373.8" stroke="#000" stroke-width="1.8" stroke-linecap="butt"/>
<text x="1224.1" y="383.6" font-size="27.47" text-anchor="start" fill="#000" textLength="42.6" lengthAdjust="spacingAndGlyphs" >1.4</text>
<line x1="1205.1" y1="510.0" x2="1205.1" y2="691.0" stroke="#000" stroke-width="1.8" stroke-linecap="butt"/>
<line x1="1205.1" y1="560.0" x2="1214.6" y2="560.0" stroke="#000" stroke-width="1.8" stroke-linecap="butt"/>
<text x="1224.1" y="569.8" font-size="27.47" text-anchor="start" fill="#000" textLength="59.7" lengthAdjust="spacingAndGlyphs" >10.5</text>
<line x1="1205.1" y1="610.7" x2="1214.6" y2="610.7" stroke="#000" stroke-width="1.8" stroke-linecap="butt"/>
<text x="1224.1" y="620.5" font-size="27.47" text-anchor="start" fill="#000" textLength="59.7" lengthAdjust="spacingAndGlyphs" >10.0</text>
<line x1="1205.1" y1="661.8" x2="1214.6" y2="661.8" stroke="#000" stroke-width="1.8" stroke-linecap="butt"/>
<text x="1224.1" y="671.6" font-size="27.47" text-anchor="start" fill="#000" textLength="42.6" lengthAdjust="spacingAndGlyphs" >9.5</text>
<line x1="1205.1" y1="796.7" x2="1205.1" y2="977.3" stroke="#000" stroke-width="1.8" stroke-linecap="butt"/>
<line x1="1205.1" y1="819.6" x2="1214.6" y2="819.6" stroke="#000" stroke-width="1.8" stroke-linecap="butt"/>
<text x="1224.1" y="829.4" font-size="27.47" text-anchor="start" fill="#000" >8</text>
<line x1="1205.1" y1="887.3" x2="1214.6" y2="887.3" stroke="#000" stroke-width="1.8" stroke-linecap="butt"/>
<text x="1224.1" y="897.1" font-size="27.47" text-anchor="start" fill="#000" >7</text>
<line x1="1205.1" y1="955.1" x2="1214.6" y2="955.1" stroke="#000" stroke-width="1.8" stroke-linecap="butt"/>
<text x="1224.1" y="964.9" font-size="27.47" text-anchor="start" fill="#000" >6</text>
<line x1="1205.1" y1="1083.3" x2="1205.1" y2="1264.4" stroke="#000" stroke-width="1.8" stroke-linecap="butt"/>
<line x1="1205.1" y1="1128.2" x2="1214.6" y2="1128.2" stroke="#000" stroke-width="1.8" stroke-linecap="butt"/>
<text x="1224.1" y="1138.0" font-size="27.47" text-anchor="start" fill="#000" textLength="56.5" lengthAdjust="spacingAndGlyphs" >−14</text>
<line x1="1205.1" y1="1229.6" x2="1214.6" y2="1229.6" stroke="#000" stroke-width="1.8" stroke-linecap="butt"/>
<text x="1224.1" y="1239.4" font-size="27.47" text-anchor="start" fill="#000" textLength="56.5" lengthAdjust="spacingAndGlyphs" >−12</text>
<line x1="1205.1" y1="1370.0" x2="1205.1" y2="1550.7" stroke="#000" stroke-width="1.8" stroke-linecap="butt"/>
<line x1="1205.1" y1="1426.2" x2="1214.6" y2="1426.2" stroke="#000" stroke-width="1.8" stroke-linecap="butt"/>
<text x="1224.1" y="1436.0" font-size="27.47" text-anchor="start" fill="#000" textLength="59.7" lengthAdjust="spacingAndGlyphs" >32.5</text>
<line x1="1205.1" y1="1493.3" x2="1214.6" y2="1493.3" stroke="#000" stroke-width="1.8" stroke-linecap="butt"/>
<text x="1224.1" y="1503.1" font-size="27.47" text-anchor="start" fill="#000" textLength="59.7" lengthAdjust="spacingAndGlyphs" >30.0</text>
<line x1="1205.1" y1="1656.7" x2="1205.1" y2="1836.9" stroke="#000" stroke-width="1.8" stroke-linecap="butt"/>
<line x1="1205.1" y1="1728.9" x2="1214.6" y2="1728.9" stroke="#000" stroke-width="1.8" stroke-linecap="butt"/>
<text x="1224.1" y="1738.7" font-size="27.47" text-anchor="start" fill="#000" textLength="56.5" lengthAdjust="spacingAndGlyphs" >−20</text>
<line x1="1205.1" y1="1827.8" x2="1214.6" y2="1827.8" stroke="#000" stroke-width="1.8" stroke-linecap="butt"/>
<text x="1224.1" y="1837.6" font-size="27.47" text-anchor="start" fill="#000" >0</text>
<g transform="translate(71.5 172.0) rotate(-90)">
<text x="-50.0" y="0.0" font-size="27.5" text-anchor="start" font-style="italic" textLength="24.1" lengthAdjust="spacingAndGlyphs">IP</text>
<text x="-25.9" y="4.8" font-size="19.2" text-anchor="start" textLength="23.9" lengthAdjust="spacingAndGlyphs">25</text>
<text x="-2.0" y="0.0" font-size="27.5" text-anchor="start" textLength="52.0" lengthAdjust="spacingAndGlyphs"> rel.</text>
</g>
<g transform="translate(101.5 169.0) rotate(-90)">
<text x="-46.5" y="0.0" font-size="27.5" text-anchor="start" textLength="93.0" lengthAdjust="spacingAndGlyphs">abund.</text>
</g>
<g transform="translate(56.0 458.0) rotate(-90)">
<text x="-65.7" y="0.0" font-size="28.5" text-anchor="start" font-style="italic">δ</text>
<text x="-48.7" y="-10.6" font-size="19.9" text-anchor="start" textLength="24.8" lengthAdjust="spacingAndGlyphs">18</text>
<text x="-24.0" y="0.0" font-size="28.5" text-anchor="start" font-style="italic">O</text>
<text x="-2.1" y="0.0" font-size="28.5" text-anchor="start" textLength="67.8" lengthAdjust="spacingAndGlyphs"> (‰)</text>
</g>
<g transform="translate(84.7 744.0) rotate(-90)">
<text x="-56.0" y="0.0" font-size="27.5" text-anchor="start" textLength="111.9" lengthAdjust="spacingAndGlyphs">SST (°C)</text>
</g>
<g transform="translate(59.4 1031.0) rotate(-90)">
<text x="-64.6" y="0.0" font-size="27.5" text-anchor="start" textLength="129.2" lengthAdjust="spacingAndGlyphs">AMVI (°C)</text>
</g>
<g transform="translate(57.3 1317.6) rotate(-90)">
<text x="-53.3" y="0.0" font-size="27.5" text-anchor="start" font-style="italic" textLength="34.0" lengthAdjust="spacingAndGlyphs">SS</text>
<text x="-19.3" y="0.0" font-size="27.5" text-anchor="start" textLength="72.6" lengthAdjust="spacingAndGlyphs"> (µm)</text>
</g>
<line x1="30.7" y1="1370.9" x2="30.7" y2="1336.9" stroke="#000" stroke-width="1.8"/>
<g transform="translate(19.5 1604.0) rotate(-90)">
<text x="-114.3" y="0.0" font-size="27.5" text-anchor="start" textLength="228.6" lengthAdjust="spacingAndGlyphs">Solar modulation</text>
</g>
<g transform="translate(49.5 1605.0) rotate(-90)">
<text x="-54.2" y="0.0" font-size="27.5" text-anchor="start" textLength="108.5" lengthAdjust="spacingAndGlyphs">Φ (MeV)</text>
</g>
<g transform="translate(1298.0 315.2) rotate(-90)">
<text x="-65.7" y="0.0" font-size="28.5" text-anchor="start" font-style="italic">δ</text>
<text x="-48.7" y="-10.6" font-size="19.9" text-anchor="start" textLength="24.8" lengthAdjust="spacingAndGlyphs">18</text>
<text x="-24.0" y="0.0" font-size="28.5" text-anchor="start" font-style="italic">O</text>
<text x="-2.1" y="0.0" font-size="28.5" text-anchor="start" textLength="67.8" lengthAdjust="spacingAndGlyphs"> (‰)</text>
</g>
<g transform="translate(1316.3 601.0) rotate(-90)">
<text x="-56.0" y="0.0" font-size="27.5" text-anchor="start" textLength="111.9" lengthAdjust="spacingAndGlyphs">SST (°C)</text>
</g>
<g transform="translate(1272.0 889.0) rotate(-90)">
<text x="-56.0" y="0.0" font-size="27.5" text-anchor="start" textLength="111.9" lengthAdjust="spacingAndGlyphs">SST (°C)</text>
</g>
<g transform="translate(1311.0 1174.0) rotate(-90)">
<text x="-25.8" y="0.0" font-size="27.5" text-anchor="start" font-style="italic">ε</text>
<text x="-11.3" y="0.0" font-size="27.5" text-anchor="start" textLength="37.1" lengthAdjust="spacingAndGlyphs">Nd</text>
</g>
<g transform="translate(1318.0 1460.7) rotate(-90)">
<text x="-53.3" y="0.0" font-size="27.5" text-anchor="start" font-style="italic" textLength="34.0" lengthAdjust="spacingAndGlyphs">SS</text>
<text x="-19.3" y="0.0" font-size="27.5" text-anchor="start" textLength="72.6" lengthAdjust="spacingAndGlyphs"> (µm)</text>
</g>
<line x1="1292" y1="1514.0" x2="1292" y2="1480.0" stroke="#000" stroke-width="1.8"/>
<g transform="translate(1311.0 1741.3) rotate(-90)">
<text x="-96.4" y="0.0" font-size="25.6" text-anchor="start" textLength="192.7" lengthAdjust="spacingAndGlyphs">Global Volcanic</text>
</g>
<g transform="translate(1346.0 1742.0) rotate(-90)">
<text x="-99.7" y="0.0" font-size="26.2" text-anchor="start" textLength="112.7" lengthAdjust="spacingAndGlyphs">Forcing (</text>
<text x="13.0" y="0.0" font-size="26.2" text-anchor="start" font-style="italic" textLength="50.3" lengthAdjust="spacingAndGlyphs">Wm</text>
<text x="63.3" y="-9.7" font-size="18.4" text-anchor="start" textLength="26.4" lengthAdjust="spacingAndGlyphs">−2</text>
<text x="89.7" y="0.0" font-size="26.2" text-anchor="start">)</text>
</g>
<text transform="translate(184.85 155) scale(1.111 1)" x="0" y="0" font-size="39.3" font-weight="bold" text-anchor="start" stroke="#000" stroke-width="0.7" stroke-linejoin="round">a</text>
<text transform="translate(184.53 282.2) scale(1.084 1)" x="0" y="0" font-size="39.3" font-weight="bold" text-anchor="start" stroke="#000" stroke-width="0.7" stroke-linejoin="round">b</text>
<text transform="translate(186.71 407.1) scale(0.954 1)" x="0" y="0" font-size="39.3" font-weight="bold" text-anchor="start" stroke="#000" stroke-width="0.7" stroke-linejoin="round">c</text>
<text transform="translate(186.45 528.5) scale(1.104 1)" x="0" y="0" font-size="39.3" font-weight="bold" text-anchor="start" stroke="#000" stroke-width="0.7" stroke-linejoin="round">d</text>
<text transform="translate(186.62 657.3) scale(1.129 1)" x="0" y="0" font-size="39.3" font-weight="bold" text-anchor="start" stroke="#000" stroke-width="0.7" stroke-linejoin="round">e</text>
<text transform="translate(191.24 805.6) scale(1.180 1)" x="0" y="0" font-size="39.3" font-weight="bold" text-anchor="start" stroke="#000" stroke-width="0.7" stroke-linejoin="round">f</text>
<text transform="translate(187.10 968) scale(1.084 1)" x="0" y="0" font-size="39.3" font-weight="bold" text-anchor="start" stroke="#000" stroke-width="0.7" stroke-linejoin="round">g</text>
<text transform="translate(186.71 1129.3) scale(1.092 1)" x="0" y="0" font-size="39.3" font-weight="bold" text-anchor="start" stroke="#000" stroke-width="0.7" stroke-linejoin="round">h</text>
<text transform="translate(193.35 1261.1) scale(1.036 1)" x="0" y="0" font-size="39.3" font-weight="bold" text-anchor="start" stroke="#000" stroke-width="0.7" stroke-linejoin="round">i</text>
<text transform="translate(194.31 1426.7) scale(1.079 1)" x="0" y="0" font-size="39.3" font-weight="bold" text-anchor="start" stroke="#000" stroke-width="0.7" stroke-linejoin="round">j</text>
<text transform="translate(184.38 1588.2) scale(1.142 1)" x="0" y="0" font-size="39.3" font-weight="bold" text-anchor="start" stroke="#000" stroke-width="0.7" stroke-linejoin="round">k</text>
<text transform="translate(193.35 1725.6) scale(1.036 1)" x="0" y="0" font-size="39.3" font-weight="bold" text-anchor="start" stroke="#000" stroke-width="0.7" stroke-linejoin="round">l</text>
<rect x="156" y="82.7" width="342.5" height="38" rx="19" ry="19" fill="#ff2b2b"/>
<text x="338.0" y="107.2" font-size="21.99" text-anchor="middle" fill="#fff" textLength="286.6" lengthAdjust="spacingAndGlyphs" >Medieval Climate Anomaly</text>
<rect x="536.7" y="81.9" width="96.9" height="47.1" rx="11" ry="11" fill="#00ccff"/>
<text x="585.5" y="102.6" font-size="22.14" text-anchor="middle" fill="#fff" textLength="78.3" lengthAdjust="spacingAndGlyphs" >Sea ice</text>
<text x="585.5" y="122.8" font-size="22.14" text-anchor="middle" fill="#fff" textLength="93.2" lengthAdjust="spacingAndGlyphs" >anomaly</text>
<line x1="616.8" y1="191.7" x2="616.8" y2="148.0" stroke="#ff0000" stroke-width="2.6" stroke-linecap="butt"/>
<path d="M609.3,157.6L616.8,147.4L624.3,157.6" fill="none" stroke="#ff0000" stroke-width="3.4" stroke-linejoin="miter" stroke-linecap="butt"/>
<text x="672.5" y="152.5" font-size="25.49" text-anchor="middle" fill="#000" textLength="59.5" lengthAdjust="spacingAndGlyphs" >More</text>
<text x="672.5" y="179.2" font-size="25.49" text-anchor="middle" fill="#000" textLength="86.3" lengthAdjust="spacingAndGlyphs" >Sea ice</text>
<line x1="460.4" y1="1158.2" x2="460.4" y2="1220.2" stroke="#ff0000" stroke-width="2.6" stroke-linecap="butt"/>
<path d="M452.9,1210.6L460.4,1220.8L467.9,1210.6" fill="none" stroke="#ff0000" stroke-width="3.4" stroke-linejoin="miter" stroke-linecap="butt"/>
<text x="413.5" y="1182.8" font-size="25.49" text-anchor="middle" fill="#000" textLength="66.5" lengthAdjust="spacingAndGlyphs" >Weak</text>
<text x="413.5" y="1209.0" font-size="25.49" text-anchor="middle" fill="#000" textLength="47.9" lengthAdjust="spacingAndGlyphs" >SPG</text>
<line x1="677.1" y1="1247.8" x2="677.1" y2="1309.1" stroke="#ff0000" stroke-width="2.6" stroke-linecap="butt"/>
<path d="M669.6,1299.5L677.1,1309.7L684.6,1299.5" fill="none" stroke="#ff0000" stroke-width="3.4" stroke-linejoin="miter" stroke-linecap="butt"/>
<text x="721.0" y="1265.7" font-size="25.49" text-anchor="middle" fill="#000" textLength="66.5" lengthAdjust="spacingAndGlyphs" >Weak</text>
<text x="721.0" y="1292.2" font-size="25.49" text-anchor="middle" fill="#000" textLength="47.9" lengthAdjust="spacingAndGlyphs" >SPG</text>
<line x1="612.8" y1="1391.8" x2="612.8" y2="1453.6" stroke="#ff0000" stroke-width="2.6" stroke-linecap="butt"/>
<path d="M605.3,1444.0L612.8,1454.2L620.3,1444.0" fill="none" stroke="#ff0000" stroke-width="3.4" stroke-linejoin="miter" stroke-linecap="butt"/>
<text x="671.3" y="1411.8" font-size="25.49" text-anchor="middle" fill="#000" textLength="66.5" lengthAdjust="spacingAndGlyphs" >Weak</text>
<text x="671.3" y="1438.0" font-size="25.49" text-anchor="middle" fill="#000" textLength="85.3" lengthAdjust="spacingAndGlyphs" >NwASC</text>
</svg>
</body></html>
